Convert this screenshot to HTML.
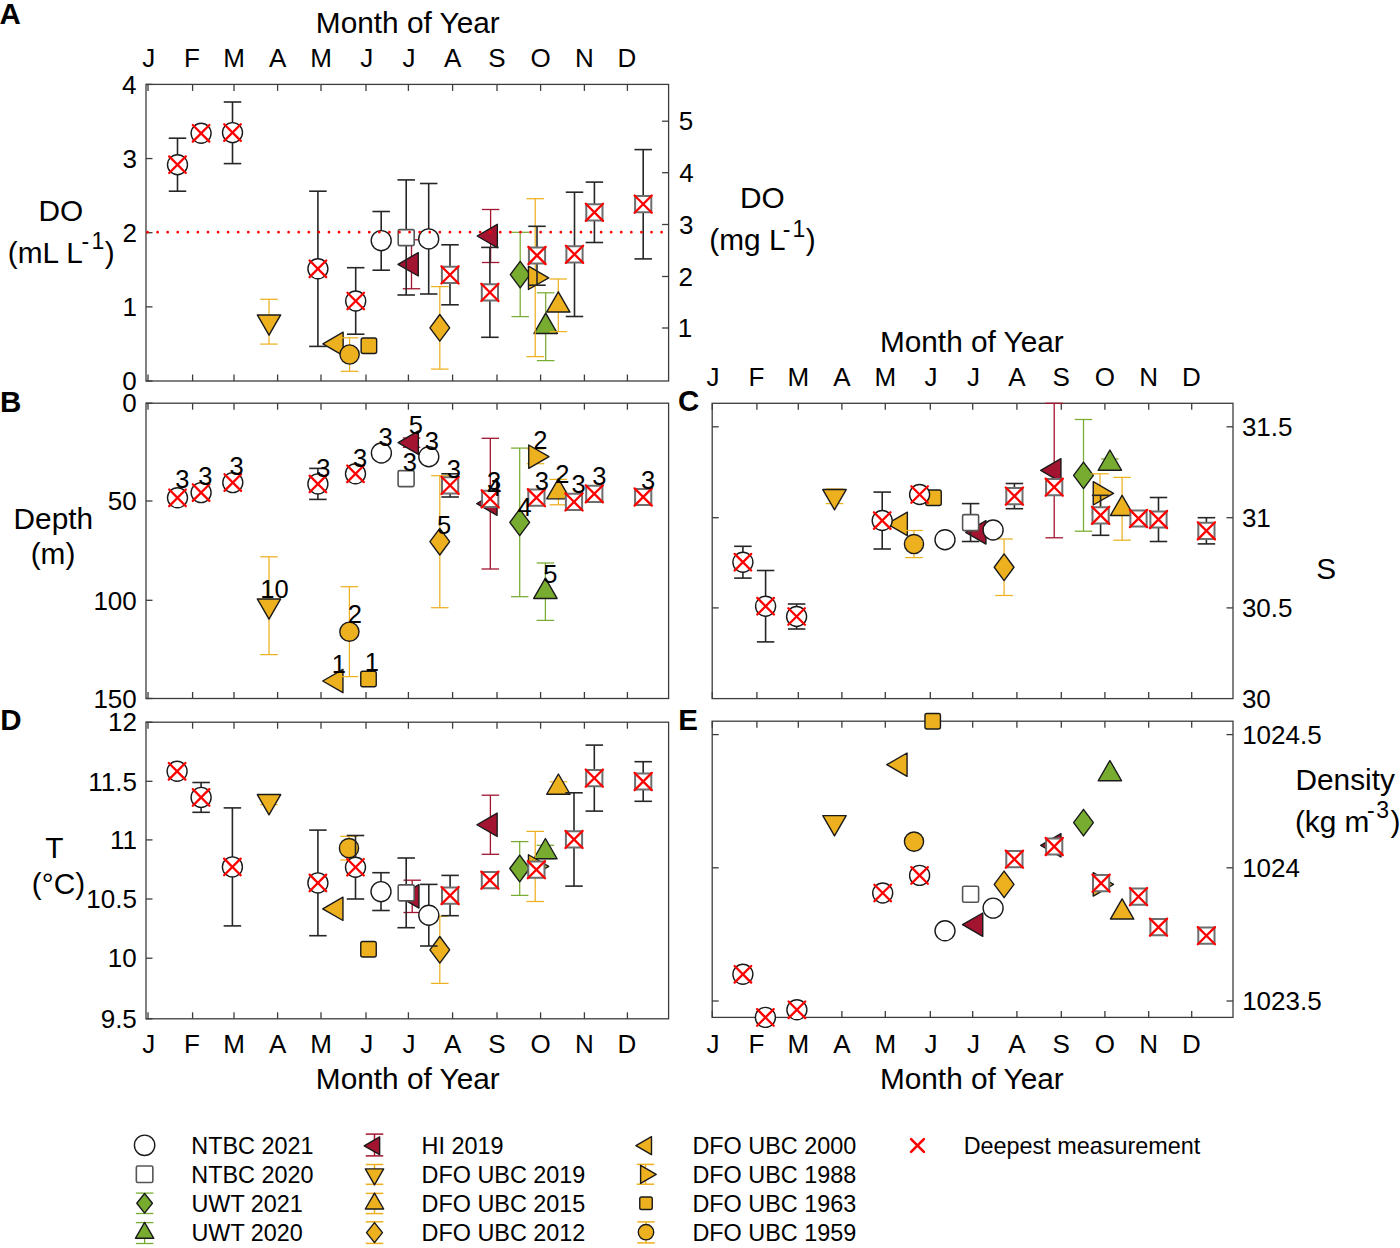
<!DOCTYPE html>
<html><head><meta charset="utf-8"><style>
html,body{margin:0;padding:0;background:#fff;}
svg{display:block;}
text{font-family:"Liberation Sans",sans-serif;}
</style></head><body>
<svg width="1400" height="1248" viewBox="0 0 1400 1248">
<rect width="1400" height="1248" fill="#fff"/>
<rect x="146" y="84.4" width="522.60" height="296.60" fill="none" stroke="#3c3c3c" stroke-width="1.3"/>
<line x1="148.00" y1="84.40" x2="148.00" y2="90.90" stroke="#3c3c3c" stroke-width="1.3" />
<line x1="148.00" y1="381.00" x2="148.00" y2="374.50" stroke="#3c3c3c" stroke-width="1.3" />
<line x1="192.60" y1="84.40" x2="192.60" y2="90.90" stroke="#3c3c3c" stroke-width="1.3" />
<line x1="192.60" y1="381.00" x2="192.60" y2="374.50" stroke="#3c3c3c" stroke-width="1.3" />
<line x1="234.00" y1="84.40" x2="234.00" y2="90.90" stroke="#3c3c3c" stroke-width="1.3" />
<line x1="234.00" y1="381.00" x2="234.00" y2="374.50" stroke="#3c3c3c" stroke-width="1.3" />
<line x1="277.60" y1="84.40" x2="277.60" y2="90.90" stroke="#3c3c3c" stroke-width="1.3" />
<line x1="277.60" y1="381.00" x2="277.60" y2="374.50" stroke="#3c3c3c" stroke-width="1.3" />
<line x1="321.00" y1="84.40" x2="321.00" y2="90.90" stroke="#3c3c3c" stroke-width="1.3" />
<line x1="321.00" y1="381.00" x2="321.00" y2="374.50" stroke="#3c3c3c" stroke-width="1.3" />
<line x1="366.00" y1="84.40" x2="366.00" y2="90.90" stroke="#3c3c3c" stroke-width="1.3" />
<line x1="366.00" y1="381.00" x2="366.00" y2="374.50" stroke="#3c3c3c" stroke-width="1.3" />
<line x1="408.40" y1="84.40" x2="408.40" y2="90.90" stroke="#3c3c3c" stroke-width="1.3" />
<line x1="408.40" y1="381.00" x2="408.40" y2="374.50" stroke="#3c3c3c" stroke-width="1.3" />
<line x1="452.60" y1="84.40" x2="452.60" y2="90.90" stroke="#3c3c3c" stroke-width="1.3" />
<line x1="452.60" y1="381.00" x2="452.60" y2="374.50" stroke="#3c3c3c" stroke-width="1.3" />
<line x1="497.00" y1="84.40" x2="497.00" y2="90.90" stroke="#3c3c3c" stroke-width="1.3" />
<line x1="497.00" y1="381.00" x2="497.00" y2="374.50" stroke="#3c3c3c" stroke-width="1.3" />
<line x1="540.60" y1="84.40" x2="540.60" y2="90.90" stroke="#3c3c3c" stroke-width="1.3" />
<line x1="540.60" y1="381.00" x2="540.60" y2="374.50" stroke="#3c3c3c" stroke-width="1.3" />
<line x1="584.40" y1="84.40" x2="584.40" y2="90.90" stroke="#3c3c3c" stroke-width="1.3" />
<line x1="584.40" y1="381.00" x2="584.40" y2="374.50" stroke="#3c3c3c" stroke-width="1.3" />
<line x1="627.40" y1="84.40" x2="627.40" y2="90.90" stroke="#3c3c3c" stroke-width="1.3" />
<line x1="627.40" y1="381.00" x2="627.40" y2="374.50" stroke="#3c3c3c" stroke-width="1.3" />
<line x1="146.00" y1="381.00" x2="152.50" y2="381.00" stroke="#3c3c3c" stroke-width="1.3" />
<line x1="146.00" y1="306.85" x2="152.50" y2="306.85" stroke="#3c3c3c" stroke-width="1.3" />
<line x1="146.00" y1="232.70" x2="152.50" y2="232.70" stroke="#3c3c3c" stroke-width="1.3" />
<line x1="146.00" y1="158.55" x2="152.50" y2="158.55" stroke="#3c3c3c" stroke-width="1.3" />
<line x1="146.00" y1="84.40" x2="152.50" y2="84.40" stroke="#3c3c3c" stroke-width="1.3" />
<line x1="668.60" y1="328.00" x2="662.10" y2="328.00" stroke="#3c3c3c" stroke-width="1.3" />
<line x1="668.60" y1="276.50" x2="662.10" y2="276.50" stroke="#3c3c3c" stroke-width="1.3" />
<line x1="668.60" y1="224.50" x2="662.10" y2="224.50" stroke="#3c3c3c" stroke-width="1.3" />
<line x1="668.60" y1="172.70" x2="662.10" y2="172.70" stroke="#3c3c3c" stroke-width="1.3" />
<line x1="668.60" y1="121.20" x2="662.10" y2="121.20" stroke="#3c3c3c" stroke-width="1.3" />
<rect x="146" y="403.2" width="522.60" height="295.30" fill="none" stroke="#3c3c3c" stroke-width="1.3"/>
<line x1="148.00" y1="403.20" x2="148.00" y2="409.70" stroke="#3c3c3c" stroke-width="1.3" />
<line x1="148.00" y1="698.50" x2="148.00" y2="692.00" stroke="#3c3c3c" stroke-width="1.3" />
<line x1="192.60" y1="403.20" x2="192.60" y2="409.70" stroke="#3c3c3c" stroke-width="1.3" />
<line x1="192.60" y1="698.50" x2="192.60" y2="692.00" stroke="#3c3c3c" stroke-width="1.3" />
<line x1="234.00" y1="403.20" x2="234.00" y2="409.70" stroke="#3c3c3c" stroke-width="1.3" />
<line x1="234.00" y1="698.50" x2="234.00" y2="692.00" stroke="#3c3c3c" stroke-width="1.3" />
<line x1="277.60" y1="403.20" x2="277.60" y2="409.70" stroke="#3c3c3c" stroke-width="1.3" />
<line x1="277.60" y1="698.50" x2="277.60" y2="692.00" stroke="#3c3c3c" stroke-width="1.3" />
<line x1="321.00" y1="403.20" x2="321.00" y2="409.70" stroke="#3c3c3c" stroke-width="1.3" />
<line x1="321.00" y1="698.50" x2="321.00" y2="692.00" stroke="#3c3c3c" stroke-width="1.3" />
<line x1="366.00" y1="403.20" x2="366.00" y2="409.70" stroke="#3c3c3c" stroke-width="1.3" />
<line x1="366.00" y1="698.50" x2="366.00" y2="692.00" stroke="#3c3c3c" stroke-width="1.3" />
<line x1="408.40" y1="403.20" x2="408.40" y2="409.70" stroke="#3c3c3c" stroke-width="1.3" />
<line x1="408.40" y1="698.50" x2="408.40" y2="692.00" stroke="#3c3c3c" stroke-width="1.3" />
<line x1="452.60" y1="403.20" x2="452.60" y2="409.70" stroke="#3c3c3c" stroke-width="1.3" />
<line x1="452.60" y1="698.50" x2="452.60" y2="692.00" stroke="#3c3c3c" stroke-width="1.3" />
<line x1="497.00" y1="403.20" x2="497.00" y2="409.70" stroke="#3c3c3c" stroke-width="1.3" />
<line x1="497.00" y1="698.50" x2="497.00" y2="692.00" stroke="#3c3c3c" stroke-width="1.3" />
<line x1="540.60" y1="403.20" x2="540.60" y2="409.70" stroke="#3c3c3c" stroke-width="1.3" />
<line x1="540.60" y1="698.50" x2="540.60" y2="692.00" stroke="#3c3c3c" stroke-width="1.3" />
<line x1="584.40" y1="403.20" x2="584.40" y2="409.70" stroke="#3c3c3c" stroke-width="1.3" />
<line x1="584.40" y1="698.50" x2="584.40" y2="692.00" stroke="#3c3c3c" stroke-width="1.3" />
<line x1="627.40" y1="403.20" x2="627.40" y2="409.70" stroke="#3c3c3c" stroke-width="1.3" />
<line x1="627.40" y1="698.50" x2="627.40" y2="692.00" stroke="#3c3c3c" stroke-width="1.3" />
<line x1="146.00" y1="403.20" x2="152.50" y2="403.20" stroke="#3c3c3c" stroke-width="1.3" />
<line x1="146.00" y1="501.00" x2="152.50" y2="501.00" stroke="#3c3c3c" stroke-width="1.3" />
<line x1="146.00" y1="600.30" x2="152.50" y2="600.30" stroke="#3c3c3c" stroke-width="1.3" />
<line x1="146.00" y1="698.50" x2="152.50" y2="698.50" stroke="#3c3c3c" stroke-width="1.3" />
<rect x="146" y="722.2" width="522.60" height="296.60" fill="none" stroke="#3c3c3c" stroke-width="1.3"/>
<line x1="148.00" y1="722.20" x2="148.00" y2="728.70" stroke="#3c3c3c" stroke-width="1.3" />
<line x1="148.00" y1="1018.80" x2="148.00" y2="1012.30" stroke="#3c3c3c" stroke-width="1.3" />
<line x1="192.60" y1="722.20" x2="192.60" y2="728.70" stroke="#3c3c3c" stroke-width="1.3" />
<line x1="192.60" y1="1018.80" x2="192.60" y2="1012.30" stroke="#3c3c3c" stroke-width="1.3" />
<line x1="234.00" y1="722.20" x2="234.00" y2="728.70" stroke="#3c3c3c" stroke-width="1.3" />
<line x1="234.00" y1="1018.80" x2="234.00" y2="1012.30" stroke="#3c3c3c" stroke-width="1.3" />
<line x1="277.60" y1="722.20" x2="277.60" y2="728.70" stroke="#3c3c3c" stroke-width="1.3" />
<line x1="277.60" y1="1018.80" x2="277.60" y2="1012.30" stroke="#3c3c3c" stroke-width="1.3" />
<line x1="321.00" y1="722.20" x2="321.00" y2="728.70" stroke="#3c3c3c" stroke-width="1.3" />
<line x1="321.00" y1="1018.80" x2="321.00" y2="1012.30" stroke="#3c3c3c" stroke-width="1.3" />
<line x1="366.00" y1="722.20" x2="366.00" y2="728.70" stroke="#3c3c3c" stroke-width="1.3" />
<line x1="366.00" y1="1018.80" x2="366.00" y2="1012.30" stroke="#3c3c3c" stroke-width="1.3" />
<line x1="408.40" y1="722.20" x2="408.40" y2="728.70" stroke="#3c3c3c" stroke-width="1.3" />
<line x1="408.40" y1="1018.80" x2="408.40" y2="1012.30" stroke="#3c3c3c" stroke-width="1.3" />
<line x1="452.60" y1="722.20" x2="452.60" y2="728.70" stroke="#3c3c3c" stroke-width="1.3" />
<line x1="452.60" y1="1018.80" x2="452.60" y2="1012.30" stroke="#3c3c3c" stroke-width="1.3" />
<line x1="497.00" y1="722.20" x2="497.00" y2="728.70" stroke="#3c3c3c" stroke-width="1.3" />
<line x1="497.00" y1="1018.80" x2="497.00" y2="1012.30" stroke="#3c3c3c" stroke-width="1.3" />
<line x1="540.60" y1="722.20" x2="540.60" y2="728.70" stroke="#3c3c3c" stroke-width="1.3" />
<line x1="540.60" y1="1018.80" x2="540.60" y2="1012.30" stroke="#3c3c3c" stroke-width="1.3" />
<line x1="584.40" y1="722.20" x2="584.40" y2="728.70" stroke="#3c3c3c" stroke-width="1.3" />
<line x1="584.40" y1="1018.80" x2="584.40" y2="1012.30" stroke="#3c3c3c" stroke-width="1.3" />
<line x1="627.40" y1="722.20" x2="627.40" y2="728.70" stroke="#3c3c3c" stroke-width="1.3" />
<line x1="627.40" y1="1018.80" x2="627.40" y2="1012.30" stroke="#3c3c3c" stroke-width="1.3" />
<line x1="146.00" y1="1018.80" x2="152.50" y2="1018.80" stroke="#3c3c3c" stroke-width="1.3" />
<line x1="146.00" y1="958.20" x2="152.50" y2="958.20" stroke="#3c3c3c" stroke-width="1.3" />
<line x1="146.00" y1="899.00" x2="152.50" y2="899.00" stroke="#3c3c3c" stroke-width="1.3" />
<line x1="146.00" y1="839.90" x2="152.50" y2="839.90" stroke="#3c3c3c" stroke-width="1.3" />
<line x1="146.00" y1="781.30" x2="152.50" y2="781.30" stroke="#3c3c3c" stroke-width="1.3" />
<line x1="146.00" y1="722.20" x2="152.50" y2="722.20" stroke="#3c3c3c" stroke-width="1.3" />
<rect x="712.2" y="403.3" width="520.80" height="295.30" fill="none" stroke="#3c3c3c" stroke-width="1.3"/>
<line x1="712.30" y1="403.30" x2="712.30" y2="409.80" stroke="#3c3c3c" stroke-width="1.3" />
<line x1="712.30" y1="698.60" x2="712.30" y2="692.10" stroke="#3c3c3c" stroke-width="1.3" />
<line x1="756.90" y1="403.30" x2="756.90" y2="409.80" stroke="#3c3c3c" stroke-width="1.3" />
<line x1="756.90" y1="698.60" x2="756.90" y2="692.10" stroke="#3c3c3c" stroke-width="1.3" />
<line x1="798.30" y1="403.30" x2="798.30" y2="409.80" stroke="#3c3c3c" stroke-width="1.3" />
<line x1="798.30" y1="698.60" x2="798.30" y2="692.10" stroke="#3c3c3c" stroke-width="1.3" />
<line x1="841.90" y1="403.30" x2="841.90" y2="409.80" stroke="#3c3c3c" stroke-width="1.3" />
<line x1="841.90" y1="698.60" x2="841.90" y2="692.10" stroke="#3c3c3c" stroke-width="1.3" />
<line x1="885.30" y1="403.30" x2="885.30" y2="409.80" stroke="#3c3c3c" stroke-width="1.3" />
<line x1="885.30" y1="698.60" x2="885.30" y2="692.10" stroke="#3c3c3c" stroke-width="1.3" />
<line x1="930.30" y1="403.30" x2="930.30" y2="409.80" stroke="#3c3c3c" stroke-width="1.3" />
<line x1="930.30" y1="698.60" x2="930.30" y2="692.10" stroke="#3c3c3c" stroke-width="1.3" />
<line x1="972.70" y1="403.30" x2="972.70" y2="409.80" stroke="#3c3c3c" stroke-width="1.3" />
<line x1="972.70" y1="698.60" x2="972.70" y2="692.10" stroke="#3c3c3c" stroke-width="1.3" />
<line x1="1016.90" y1="403.30" x2="1016.90" y2="409.80" stroke="#3c3c3c" stroke-width="1.3" />
<line x1="1016.90" y1="698.60" x2="1016.90" y2="692.10" stroke="#3c3c3c" stroke-width="1.3" />
<line x1="1061.30" y1="403.30" x2="1061.30" y2="409.80" stroke="#3c3c3c" stroke-width="1.3" />
<line x1="1061.30" y1="698.60" x2="1061.30" y2="692.10" stroke="#3c3c3c" stroke-width="1.3" />
<line x1="1104.90" y1="403.30" x2="1104.90" y2="409.80" stroke="#3c3c3c" stroke-width="1.3" />
<line x1="1104.90" y1="698.60" x2="1104.90" y2="692.10" stroke="#3c3c3c" stroke-width="1.3" />
<line x1="1148.70" y1="403.30" x2="1148.70" y2="409.80" stroke="#3c3c3c" stroke-width="1.3" />
<line x1="1148.70" y1="698.60" x2="1148.70" y2="692.10" stroke="#3c3c3c" stroke-width="1.3" />
<line x1="1191.70" y1="403.30" x2="1191.70" y2="409.80" stroke="#3c3c3c" stroke-width="1.3" />
<line x1="1191.70" y1="698.60" x2="1191.70" y2="692.10" stroke="#3c3c3c" stroke-width="1.3" />
<line x1="712.20" y1="607.90" x2="718.70" y2="607.90" stroke="#3c3c3c" stroke-width="1.3" />
<line x1="1233.00" y1="607.90" x2="1226.50" y2="607.90" stroke="#3c3c3c" stroke-width="1.3" />
<line x1="712.20" y1="517.70" x2="718.70" y2="517.70" stroke="#3c3c3c" stroke-width="1.3" />
<line x1="1233.00" y1="517.70" x2="1226.50" y2="517.70" stroke="#3c3c3c" stroke-width="1.3" />
<line x1="712.20" y1="426.80" x2="718.70" y2="426.80" stroke="#3c3c3c" stroke-width="1.3" />
<line x1="1233.00" y1="426.80" x2="1226.50" y2="426.80" stroke="#3c3c3c" stroke-width="1.3" />
<rect x="712.2" y="721.2" width="520.80" height="296.20" fill="none" stroke="#3c3c3c" stroke-width="1.3"/>
<line x1="712.30" y1="721.20" x2="712.30" y2="727.70" stroke="#3c3c3c" stroke-width="1.3" />
<line x1="712.30" y1="1017.40" x2="712.30" y2="1010.90" stroke="#3c3c3c" stroke-width="1.3" />
<line x1="756.90" y1="721.20" x2="756.90" y2="727.70" stroke="#3c3c3c" stroke-width="1.3" />
<line x1="756.90" y1="1017.40" x2="756.90" y2="1010.90" stroke="#3c3c3c" stroke-width="1.3" />
<line x1="798.30" y1="721.20" x2="798.30" y2="727.70" stroke="#3c3c3c" stroke-width="1.3" />
<line x1="798.30" y1="1017.40" x2="798.30" y2="1010.90" stroke="#3c3c3c" stroke-width="1.3" />
<line x1="841.90" y1="721.20" x2="841.90" y2="727.70" stroke="#3c3c3c" stroke-width="1.3" />
<line x1="841.90" y1="1017.40" x2="841.90" y2="1010.90" stroke="#3c3c3c" stroke-width="1.3" />
<line x1="885.30" y1="721.20" x2="885.30" y2="727.70" stroke="#3c3c3c" stroke-width="1.3" />
<line x1="885.30" y1="1017.40" x2="885.30" y2="1010.90" stroke="#3c3c3c" stroke-width="1.3" />
<line x1="930.30" y1="721.20" x2="930.30" y2="727.70" stroke="#3c3c3c" stroke-width="1.3" />
<line x1="930.30" y1="1017.40" x2="930.30" y2="1010.90" stroke="#3c3c3c" stroke-width="1.3" />
<line x1="972.70" y1="721.20" x2="972.70" y2="727.70" stroke="#3c3c3c" stroke-width="1.3" />
<line x1="972.70" y1="1017.40" x2="972.70" y2="1010.90" stroke="#3c3c3c" stroke-width="1.3" />
<line x1="1016.90" y1="721.20" x2="1016.90" y2="727.70" stroke="#3c3c3c" stroke-width="1.3" />
<line x1="1016.90" y1="1017.40" x2="1016.90" y2="1010.90" stroke="#3c3c3c" stroke-width="1.3" />
<line x1="1061.30" y1="721.20" x2="1061.30" y2="727.70" stroke="#3c3c3c" stroke-width="1.3" />
<line x1="1061.30" y1="1017.40" x2="1061.30" y2="1010.90" stroke="#3c3c3c" stroke-width="1.3" />
<line x1="1104.90" y1="721.20" x2="1104.90" y2="727.70" stroke="#3c3c3c" stroke-width="1.3" />
<line x1="1104.90" y1="1017.40" x2="1104.90" y2="1010.90" stroke="#3c3c3c" stroke-width="1.3" />
<line x1="1148.70" y1="721.20" x2="1148.70" y2="727.70" stroke="#3c3c3c" stroke-width="1.3" />
<line x1="1148.70" y1="1017.40" x2="1148.70" y2="1010.90" stroke="#3c3c3c" stroke-width="1.3" />
<line x1="1191.70" y1="721.20" x2="1191.70" y2="727.70" stroke="#3c3c3c" stroke-width="1.3" />
<line x1="1191.70" y1="1017.40" x2="1191.70" y2="1010.90" stroke="#3c3c3c" stroke-width="1.3" />
<line x1="712.20" y1="1001.00" x2="718.70" y2="1001.00" stroke="#3c3c3c" stroke-width="1.3" />
<line x1="1233.00" y1="1001.00" x2="1226.50" y2="1001.00" stroke="#3c3c3c" stroke-width="1.3" />
<line x1="712.20" y1="867.80" x2="718.70" y2="867.80" stroke="#3c3c3c" stroke-width="1.3" />
<line x1="1233.00" y1="867.80" x2="1226.50" y2="867.80" stroke="#3c3c3c" stroke-width="1.3" />
<line x1="712.20" y1="734.60" x2="718.70" y2="734.60" stroke="#3c3c3c" stroke-width="1.3" />
<line x1="1233.00" y1="734.60" x2="1226.50" y2="734.60" stroke="#3c3c3c" stroke-width="1.3" />
<text x="122.28" y="390.20" font-size="26" font-weight="normal" fill="#000" >0</text>
<text x="122.54" y="316.05" font-size="26" font-weight="normal" fill="#000" >1</text>
<text x="122.54" y="241.90" font-size="26" font-weight="normal" fill="#000" >2</text>
<text x="122.41" y="167.75" font-size="26" font-weight="normal" fill="#000" >3</text>
<text x="122.02" y="93.60" font-size="26" font-weight="normal" fill="#000" >4</text>
<text x="677.85" y="337.20" font-size="26" font-weight="normal" fill="#000" >1</text>
<text x="678.50" y="285.70" font-size="26" font-weight="normal" fill="#000" >2</text>
<text x="678.89" y="233.70" font-size="26" font-weight="normal" fill="#000" >3</text>
<text x="679.28" y="181.90" font-size="26" font-weight="normal" fill="#000" >4</text>
<text x="678.76" y="130.40" font-size="26" font-weight="normal" fill="#000" >5</text>
<text x="122.28" y="412.40" font-size="26" font-weight="normal" fill="#000" >0</text>
<text x="107.85" y="510.20" font-size="26" font-weight="normal" fill="#000" >50</text>
<text x="93.42" y="609.50" font-size="26" font-weight="normal" fill="#000" >100</text>
<text x="93.42" y="707.70" font-size="26" font-weight="normal" fill="#000" >150</text>
<text x="100.70" y="1028.00" font-size="26" font-weight="normal" fill="#000" >9.5</text>
<text x="107.85" y="967.40" font-size="26" font-weight="normal" fill="#000" >10</text>
<text x="86.27" y="908.20" font-size="26" font-weight="normal" fill="#000" >10.5</text>
<text x="110.06" y="849.10" font-size="26" font-weight="normal" fill="#000" >11</text>
<text x="88.22" y="790.50" font-size="26" font-weight="normal" fill="#000" >11.5</text>
<text x="108.11" y="731.40" font-size="26" font-weight="normal" fill="#000" >12</text>
<text x="1241.89" y="707.80" font-size="26" font-weight="normal" fill="#000" >30</text>
<text x="1241.89" y="617.10" font-size="26" font-weight="normal" fill="#000" >30.5</text>
<text x="1241.89" y="526.90" font-size="26" font-weight="normal" fill="#000" >31</text>
<text x="1241.89" y="436.00" font-size="26" font-weight="normal" fill="#000" >31.5</text>
<text x="1242.15" y="1010.20" font-size="26" font-weight="normal" fill="#000" >1023.5</text>
<text x="1242.15" y="877.00" font-size="26" font-weight="normal" fill="#000" >1024</text>
<text x="1242.15" y="743.80" font-size="26" font-weight="normal" fill="#000" >1024.5</text>
<text x="142.22" y="67.40" font-size="26" font-weight="normal" fill="#000" >J</text>
<text x="706.51" y="386.30" font-size="26" font-weight="normal" fill="#000" >J</text>
<text x="142.22" y="1053.10" font-size="26" font-weight="normal" fill="#000" >J</text>
<text x="706.51" y="1053.10" font-size="26" font-weight="normal" fill="#000" >J</text>
<text x="184.09" y="67.40" font-size="26" font-weight="normal" fill="#000" >F</text>
<text x="748.38" y="386.30" font-size="26" font-weight="normal" fill="#000" >F</text>
<text x="184.09" y="1053.10" font-size="26" font-weight="normal" fill="#000" >F</text>
<text x="748.38" y="1053.10" font-size="26" font-weight="normal" fill="#000" >F</text>
<text x="223.15" y="67.40" font-size="26" font-weight="normal" fill="#000" >M</text>
<text x="787.44" y="386.30" font-size="26" font-weight="normal" fill="#000" >M</text>
<text x="223.15" y="1053.10" font-size="26" font-weight="normal" fill="#000" >M</text>
<text x="787.44" y="1053.10" font-size="26" font-weight="normal" fill="#000" >M</text>
<text x="268.96" y="67.40" font-size="26" font-weight="normal" fill="#000" >A</text>
<text x="833.25" y="386.30" font-size="26" font-weight="normal" fill="#000" >A</text>
<text x="268.96" y="1053.10" font-size="26" font-weight="normal" fill="#000" >A</text>
<text x="833.25" y="1053.10" font-size="26" font-weight="normal" fill="#000" >A</text>
<text x="310.14" y="67.40" font-size="26" font-weight="normal" fill="#000" >M</text>
<text x="874.44" y="386.30" font-size="26" font-weight="normal" fill="#000" >M</text>
<text x="310.14" y="1053.10" font-size="26" font-weight="normal" fill="#000" >M</text>
<text x="874.44" y="1053.10" font-size="26" font-weight="normal" fill="#000" >M</text>
<text x="360.21" y="67.40" font-size="26" font-weight="normal" fill="#000" >J</text>
<text x="924.51" y="386.30" font-size="26" font-weight="normal" fill="#000" >J</text>
<text x="360.21" y="1053.10" font-size="26" font-weight="normal" fill="#000" >J</text>
<text x="924.51" y="1053.10" font-size="26" font-weight="normal" fill="#000" >J</text>
<text x="402.61" y="67.40" font-size="26" font-weight="normal" fill="#000" >J</text>
<text x="966.91" y="386.30" font-size="26" font-weight="normal" fill="#000" >J</text>
<text x="402.61" y="1053.10" font-size="26" font-weight="normal" fill="#000" >J</text>
<text x="966.91" y="1053.10" font-size="26" font-weight="normal" fill="#000" >J</text>
<text x="443.96" y="67.40" font-size="26" font-weight="normal" fill="#000" >A</text>
<text x="1008.25" y="386.30" font-size="26" font-weight="normal" fill="#000" >A</text>
<text x="443.96" y="1053.10" font-size="26" font-weight="normal" fill="#000" >A</text>
<text x="1008.25" y="1053.10" font-size="26" font-weight="normal" fill="#000" >A</text>
<text x="488.29" y="67.40" font-size="26" font-weight="normal" fill="#000" >S</text>
<text x="1052.59" y="386.30" font-size="26" font-weight="normal" fill="#000" >S</text>
<text x="488.29" y="1053.10" font-size="26" font-weight="normal" fill="#000" >S</text>
<text x="1052.59" y="1053.10" font-size="26" font-weight="normal" fill="#000" >S</text>
<text x="530.52" y="67.40" font-size="26" font-weight="normal" fill="#000" >O</text>
<text x="1094.83" y="386.30" font-size="26" font-weight="normal" fill="#000" >O</text>
<text x="530.52" y="1053.10" font-size="26" font-weight="normal" fill="#000" >O</text>
<text x="1094.83" y="1053.10" font-size="26" font-weight="normal" fill="#000" >O</text>
<text x="574.98" y="67.40" font-size="26" font-weight="normal" fill="#000" >N</text>
<text x="1139.27" y="386.30" font-size="26" font-weight="normal" fill="#000" >N</text>
<text x="574.98" y="1053.10" font-size="26" font-weight="normal" fill="#000" >N</text>
<text x="1139.27" y="1053.10" font-size="26" font-weight="normal" fill="#000" >N</text>
<text x="617.58" y="67.40" font-size="26" font-weight="normal" fill="#000" >D</text>
<text x="1181.88" y="386.30" font-size="26" font-weight="normal" fill="#000" >D</text>
<text x="617.58" y="1053.10" font-size="26" font-weight="normal" fill="#000" >D</text>
<text x="1181.88" y="1053.10" font-size="26" font-weight="normal" fill="#000" >D</text>
<text x="315.87" y="33.30" font-size="29.8" font-weight="normal" fill="#000" >Month of Year</text>
<text x="879.92" y="352.10" font-size="29.8" font-weight="normal" fill="#000" >Month of Year</text>
<text x="315.87" y="1088.80" font-size="29.8" font-weight="normal" fill="#000" >Month of Year</text>
<text x="879.92" y="1088.80" font-size="29.8" font-weight="normal" fill="#000" >Month of Year</text>
<text x="-0.44" y="23.80" font-size="29.5" font-weight="bold" fill="#000" >A</text>
<text x="-0.02" y="411.80" font-size="29.5" font-weight="bold" fill="#000" >B</text>
<text x="677.92" y="411.30" font-size="29.5" font-weight="bold" fill="#000" >C</text>
<text x="0.18" y="729.60" font-size="29.5" font-weight="bold" fill="#000" >D</text>
<text x="678.28" y="729.60" font-size="29.5" font-weight="bold" fill="#000" >E</text>
<text x="38.55" y="220.70" font-size="29.8" font-weight="normal" fill="#000" >DO</text>
<text x="7.81" y="263.00" font-size="29.8" font-weight="normal" fill="#000" >(mL L</text>
<text x="81.58" y="249.40" font-size="23" font-weight="normal" fill="#000" >-</text>
<text x="91.48" y="249.40" font-size="23" font-weight="normal" fill="#000" >1</text>
<text x="104.85" y="263.00" font-size="29.8" font-weight="normal" fill="#000" >)</text>
<text x="13.59" y="529.30" font-size="29.8" font-weight="normal" fill="#000" >Depth</text>
<text x="30.70" y="564.25" font-size="29.8" font-weight="normal" fill="#000" >(m)</text>
<text x="45.31" y="858.10" font-size="29.8" font-weight="normal" fill="#000" >T</text>
<text x="31.83" y="893.50" font-size="29.8" font-weight="normal" fill="#000" >(°C)</text>
<text x="740.00" y="207.60" font-size="29.8" font-weight="normal" fill="#000" >DO</text>
<text x="709.31" y="250.30" font-size="29.8" font-weight="normal" fill="#000" >(mg L</text>
<text x="782.68" y="236.60" font-size="23" font-weight="normal" fill="#000" >-</text>
<text x="792.57" y="236.60" font-size="23" font-weight="normal" fill="#000" >1</text>
<text x="805.75" y="250.30" font-size="29.8" font-weight="normal" fill="#000" >)</text>
<text x="1316.17" y="579.00" font-size="29.8" font-weight="normal" fill="#000" >S</text>
<text x="1295.47" y="789.50" font-size="29.8" font-weight="normal" fill="#000" >Density</text>
<text x="1294.91" y="831.50" font-size="29.8" font-weight="normal" fill="#000" >(kg m</text>
<text x="1366.88" y="818.10" font-size="23" font-weight="normal" fill="#000" >-</text>
<text x="1376.36" y="818.10" font-size="23" font-weight="normal" fill="#000" >3</text>
<text x="1390.45" y="831.50" font-size="29.8" font-weight="normal" fill="#000" >)</text>
<text x="191.33" y="1153.80" font-size="23.4" font-weight="normal" fill="#000" >NTBC 2021</text>
<text x="421.53" y="1153.80" font-size="23.4" font-weight="normal" fill="#000" >HI 2019</text>
<text x="692.43" y="1153.80" font-size="23.4" font-weight="normal" fill="#000" >DFO UBC 2000</text>
<text x="191.33" y="1182.60" font-size="23.4" font-weight="normal" fill="#000" >NTBC 2020</text>
<text x="421.53" y="1182.60" font-size="23.4" font-weight="normal" fill="#000" >DFO UBC 2019</text>
<text x="692.43" y="1182.60" font-size="23.4" font-weight="normal" fill="#000" >DFO UBC 1988</text>
<text x="191.44" y="1211.90" font-size="23.4" font-weight="normal" fill="#000" >UWT 2021</text>
<text x="421.53" y="1211.90" font-size="23.4" font-weight="normal" fill="#000" >DFO UBC 2015</text>
<text x="692.43" y="1211.90" font-size="23.4" font-weight="normal" fill="#000" >DFO UBC 1963</text>
<text x="191.44" y="1241.00" font-size="23.4" font-weight="normal" fill="#000" >UWT 2020</text>
<text x="421.53" y="1241.00" font-size="23.4" font-weight="normal" fill="#000" >DFO UBC 2012</text>
<text x="692.43" y="1241.00" font-size="23.4" font-weight="normal" fill="#000" >DFO UBC 1959</text>
<text x="963.63" y="1153.80" font-size="23.4" font-weight="normal" fill="#000" >Deepest measurement</text>
<circle cx="144.60" cy="1145.30" r="10.2" fill="#fff" stroke="#1a1a1a" stroke-width="1.4"/>
<rect x="136.35" y="1166.05" width="16.5" height="16.5" rx="1.5" fill="#fff" stroke="#555" stroke-width="1.6"/>
<line x1="144.60" y1="1193.10" x2="144.60" y2="1213.50" stroke="#77AC30" stroke-width="1.3" />
<line x1="135.85" y1="1193.10" x2="153.35" y2="1193.10" stroke="#77AC30" stroke-width="1.3" />
<line x1="135.85" y1="1213.50" x2="153.35" y2="1213.50" stroke="#77AC30" stroke-width="1.3" />
<polygon points="144.60,1193.50 152.40,1203.30 144.60,1213.10 136.80,1203.30" fill="#77AC30" stroke="#1a1a1a" stroke-width="1.4" stroke-linejoin="round"/>
<line x1="144.60" y1="1222.60" x2="144.60" y2="1243.50" stroke="#77AC30" stroke-width="1.3" />
<line x1="135.85" y1="1222.60" x2="153.35" y2="1222.60" stroke="#77AC30" stroke-width="1.3" />
<line x1="135.85" y1="1243.50" x2="153.35" y2="1243.50" stroke="#77AC30" stroke-width="1.3" />
<polygon points="144.60,1222.40 153.78,1238.30 135.42,1238.30" fill="#77AC30" stroke="#1a1a1a" stroke-width="1.4" stroke-linejoin="round"/>
<line x1="374.50" y1="1134.10" x2="374.50" y2="1155.90" stroke="#A2142F" stroke-width="1.5" />
<line x1="365.75" y1="1134.10" x2="383.25" y2="1134.10" stroke="#A2142F" stroke-width="1.5" />
<line x1="365.75" y1="1155.90" x2="383.25" y2="1155.90" stroke="#A2142F" stroke-width="1.5" />
<polygon points="364.20,1145.80 379.65,1136.88 379.65,1154.72" fill="#A2142F" stroke="#1a1a1a" stroke-width="1.4" stroke-linejoin="round"/>
<line x1="374.50" y1="1164.50" x2="374.50" y2="1184.30" stroke="#EDB120" stroke-width="1.5" />
<line x1="365.75" y1="1164.50" x2="383.25" y2="1164.50" stroke="#EDB120" stroke-width="1.5" />
<line x1="365.75" y1="1184.30" x2="383.25" y2="1184.30" stroke="#EDB120" stroke-width="1.5" />
<polygon points="374.50,1184.80 365.32,1168.90 383.68,1168.90" fill="#EDB120" stroke="#1a1a1a" stroke-width="1.4" stroke-linejoin="round"/>
<line x1="374.50" y1="1193.40" x2="374.50" y2="1213.60" stroke="#EDB120" stroke-width="1.5" />
<line x1="365.75" y1="1193.40" x2="383.25" y2="1193.40" stroke="#EDB120" stroke-width="1.5" />
<line x1="365.75" y1="1213.60" x2="383.25" y2="1213.60" stroke="#EDB120" stroke-width="1.5" />
<polygon points="374.50,1193.10 383.68,1209.00 365.32,1209.00" fill="#EDB120" stroke="#1a1a1a" stroke-width="1.4" stroke-linejoin="round"/>
<line x1="374.50" y1="1221.80" x2="374.50" y2="1243.40" stroke="#EDB120" stroke-width="1.5" />
<line x1="365.75" y1="1221.80" x2="383.25" y2="1221.80" stroke="#EDB120" stroke-width="1.5" />
<line x1="365.75" y1="1243.40" x2="383.25" y2="1243.40" stroke="#EDB120" stroke-width="1.5" />
<polygon points="374.50,1222.60 382.50,1232.60 374.50,1242.60 366.50,1232.60" fill="#EDB120" stroke="#1a1a1a" stroke-width="1.4" stroke-linejoin="round"/>
<polygon points="635.90,1145.70 651.50,1136.69 651.50,1154.71" fill="#EDB120" stroke="#1a1a1a" stroke-width="1.4" stroke-linejoin="round"/>
<line x1="645.50" y1="1164.40" x2="645.50" y2="1184.20" stroke="#EDB120" stroke-width="1.5" />
<line x1="636.75" y1="1164.40" x2="654.25" y2="1164.40" stroke="#EDB120" stroke-width="1.5" />
<line x1="636.75" y1="1184.20" x2="654.25" y2="1184.20" stroke="#EDB120" stroke-width="1.5" />
<polygon points="656.20,1174.30 640.60,1183.31 640.60,1165.29" fill="#EDB120" stroke="#1a1a1a" stroke-width="1.4" stroke-linejoin="round"/>
<rect x="639.75" y="1197.05" width="12.5" height="12.5" rx="1.8" fill="#EDB120" stroke="#1a1a1a" stroke-width="1.4"/>
<line x1="646.00" y1="1221.90" x2="646.00" y2="1242.90" stroke="#EDB120" stroke-width="1.5" />
<line x1="637.25" y1="1221.90" x2="654.75" y2="1221.90" stroke="#EDB120" stroke-width="1.5" />
<line x1="637.25" y1="1242.90" x2="654.75" y2="1242.90" stroke="#EDB120" stroke-width="1.5" />
<circle cx="646.00" cy="1232.20" r="7.7" fill="#EDB120" stroke="#1a1a1a" stroke-width="1.4"/>
<line x1="911.10" y1="1139.10" x2="923.90" y2="1151.90" stroke="#FF0000" stroke-width="2.6" stroke-linecap="round"/>
<line x1="911.10" y1="1151.90" x2="923.90" y2="1139.10" stroke="#FF0000" stroke-width="2.6" stroke-linecap="round"/>
<line x1="520.20" y1="232.30" x2="520.20" y2="316.60" stroke="#77AC30" stroke-width="1.25" />
<line x1="511.45" y1="232.30" x2="528.95" y2="232.30" stroke="#77AC30" stroke-width="1.25" />
<line x1="511.45" y1="316.60" x2="528.95" y2="316.60" stroke="#77AC30" stroke-width="1.25" />
<polygon points="520.20,261.30 530.10,274.60 520.20,287.90 510.30,274.60" fill="#77AC30" stroke="#1a1a1a" stroke-width="1.4" stroke-linejoin="round"/>
<line x1="545.70" y1="292.80" x2="545.70" y2="360.60" stroke="#77AC30" stroke-width="1.25" />
<line x1="536.95" y1="292.80" x2="554.45" y2="292.80" stroke="#77AC30" stroke-width="1.25" />
<line x1="536.95" y1="360.60" x2="554.45" y2="360.60" stroke="#77AC30" stroke-width="1.25" />
<polygon points="545.70,313.20 557.39,333.45 534.01,333.45" fill="#77AC30" stroke="#1a1a1a" stroke-width="1.4" stroke-linejoin="round"/>
<line x1="411.50" y1="239.80" x2="411.50" y2="288.75" stroke="#A2142F" stroke-width="1.3" />
<line x1="402.75" y1="239.80" x2="420.25" y2="239.80" stroke="#A2142F" stroke-width="1.3" />
<line x1="402.75" y1="288.75" x2="420.25" y2="288.75" stroke="#A2142F" stroke-width="1.3" />
<polygon points="398.00,264.30 418.25,252.61 418.25,275.99" fill="#A2142F" stroke="#1a1a1a" stroke-width="1.4" stroke-linejoin="round"/>
<line x1="490.60" y1="209.50" x2="490.60" y2="262.50" stroke="#A2142F" stroke-width="1.3" />
<line x1="481.85" y1="209.50" x2="499.35" y2="209.50" stroke="#A2142F" stroke-width="1.3" />
<line x1="481.85" y1="262.50" x2="499.35" y2="262.50" stroke="#A2142F" stroke-width="1.3" />
<polygon points="477.10,236.00 497.35,224.31 497.35,247.69" fill="#A2142F" stroke="#1a1a1a" stroke-width="1.4" stroke-linejoin="round"/>
<line x1="269.00" y1="299.30" x2="269.00" y2="344.10" stroke="#EDB120" stroke-width="1.25" />
<line x1="260.25" y1="299.30" x2="277.75" y2="299.30" stroke="#EDB120" stroke-width="1.25" />
<line x1="260.25" y1="344.10" x2="277.75" y2="344.10" stroke="#EDB120" stroke-width="1.25" />
<polygon points="269.00,335.20 257.31,314.95 280.69,314.95" fill="#EDB120" stroke="#1a1a1a" stroke-width="1.4" stroke-linejoin="round"/>
<line x1="558.30" y1="279.00" x2="558.30" y2="331.60" stroke="#EDB120" stroke-width="1.25" />
<line x1="549.55" y1="279.00" x2="567.05" y2="279.00" stroke="#EDB120" stroke-width="1.25" />
<line x1="549.55" y1="331.60" x2="567.05" y2="331.60" stroke="#EDB120" stroke-width="1.25" />
<polygon points="558.30,291.80 569.99,312.05 546.61,312.05" fill="#EDB120" stroke="#1a1a1a" stroke-width="1.4" stroke-linejoin="round"/>
<line x1="439.80" y1="286.60" x2="439.80" y2="369.10" stroke="#EDB120" stroke-width="1.25" />
<line x1="431.05" y1="286.60" x2="448.55" y2="286.60" stroke="#EDB120" stroke-width="1.25" />
<line x1="431.05" y1="369.10" x2="448.55" y2="369.10" stroke="#EDB120" stroke-width="1.25" />
<polygon points="439.80,314.50 449.70,327.80 439.80,341.10 429.90,327.80" fill="#EDB120" stroke="#1a1a1a" stroke-width="1.4" stroke-linejoin="round"/>
<polygon points="322.90,343.85 343.15,332.16 343.15,355.54" fill="#EDB120" stroke="#1a1a1a" stroke-width="1.4" stroke-linejoin="round"/>
<line x1="535.20" y1="198.70" x2="535.20" y2="356.60" stroke="#EDB120" stroke-width="1.25" />
<line x1="526.45" y1="198.70" x2="543.95" y2="198.70" stroke="#EDB120" stroke-width="1.25" />
<line x1="526.45" y1="356.60" x2="543.95" y2="356.60" stroke="#EDB120" stroke-width="1.25" />
<polygon points="548.70,277.80 528.45,289.49 528.45,266.11" fill="#EDB120" stroke="#1a1a1a" stroke-width="1.4" stroke-linejoin="round"/>
<rect x="361.15" y="338.05" width="15.5" height="15.5" rx="2" fill="#EDB120" stroke="#1a1a1a" stroke-width="1.4"/>
<line x1="349.60" y1="337.80" x2="349.60" y2="371.30" stroke="#EDB120" stroke-width="1.25" />
<line x1="340.85" y1="337.80" x2="358.35" y2="337.80" stroke="#EDB120" stroke-width="1.25" />
<line x1="340.85" y1="371.30" x2="358.35" y2="371.30" stroke="#EDB120" stroke-width="1.25" />
<circle cx="349.60" cy="354.50" r="9.6" fill="#EDB120" stroke="#1a1a1a" stroke-width="1.4"/>
<line x1="177.50" y1="138.20" x2="177.50" y2="191.20" stroke="#262626" stroke-width="1.6" />
<line x1="168.75" y1="138.20" x2="186.25" y2="138.20" stroke="#262626" stroke-width="1.6" />
<line x1="168.75" y1="191.20" x2="186.25" y2="191.20" stroke="#262626" stroke-width="1.6" />
<circle cx="177.50" cy="164.70" r="10.0" fill="#fff" stroke="#1a1a1a" stroke-width="1.4"/>
<line x1="169.20" y1="156.40" x2="185.80" y2="173.00" stroke="#FF0000" stroke-width="2.3" stroke-linecap="round"/>
<line x1="169.20" y1="173.00" x2="185.80" y2="156.40" stroke="#FF0000" stroke-width="2.3" stroke-linecap="round"/>
<circle cx="201.10" cy="133.30" r="10.0" fill="#fff" stroke="#1a1a1a" stroke-width="1.4"/>
<line x1="192.80" y1="125.00" x2="209.40" y2="141.60" stroke="#FF0000" stroke-width="2.3" stroke-linecap="round"/>
<line x1="192.80" y1="141.60" x2="209.40" y2="125.00" stroke="#FF0000" stroke-width="2.3" stroke-linecap="round"/>
<line x1="232.50" y1="102.00" x2="232.50" y2="163.60" stroke="#262626" stroke-width="1.6" />
<line x1="223.75" y1="102.00" x2="241.25" y2="102.00" stroke="#262626" stroke-width="1.6" />
<line x1="223.75" y1="163.60" x2="241.25" y2="163.60" stroke="#262626" stroke-width="1.6" />
<circle cx="232.50" cy="132.60" r="10.0" fill="#fff" stroke="#1a1a1a" stroke-width="1.4"/>
<line x1="224.20" y1="124.30" x2="240.80" y2="140.90" stroke="#FF0000" stroke-width="2.3" stroke-linecap="round"/>
<line x1="224.20" y1="140.90" x2="240.80" y2="124.30" stroke="#FF0000" stroke-width="2.3" stroke-linecap="round"/>
<line x1="317.90" y1="191.20" x2="317.90" y2="346.40" stroke="#262626" stroke-width="1.6" />
<line x1="309.15" y1="191.20" x2="326.65" y2="191.20" stroke="#262626" stroke-width="1.6" />
<line x1="309.15" y1="346.40" x2="326.65" y2="346.40" stroke="#262626" stroke-width="1.6" />
<circle cx="317.90" cy="268.80" r="10.0" fill="#fff" stroke="#1a1a1a" stroke-width="1.4"/>
<line x1="309.60" y1="260.50" x2="326.20" y2="277.10" stroke="#FF0000" stroke-width="2.3" stroke-linecap="round"/>
<line x1="309.60" y1="277.10" x2="326.20" y2="260.50" stroke="#FF0000" stroke-width="2.3" stroke-linecap="round"/>
<line x1="355.70" y1="267.70" x2="355.70" y2="334.20" stroke="#262626" stroke-width="1.6" />
<line x1="346.95" y1="267.70" x2="364.45" y2="267.70" stroke="#262626" stroke-width="1.6" />
<line x1="346.95" y1="334.20" x2="364.45" y2="334.20" stroke="#262626" stroke-width="1.6" />
<circle cx="355.70" cy="301.00" r="10.0" fill="#fff" stroke="#1a1a1a" stroke-width="1.4"/>
<line x1="347.40" y1="292.70" x2="364.00" y2="309.30" stroke="#FF0000" stroke-width="2.3" stroke-linecap="round"/>
<line x1="347.40" y1="309.30" x2="364.00" y2="292.70" stroke="#FF0000" stroke-width="2.3" stroke-linecap="round"/>
<line x1="381.20" y1="211.50" x2="381.20" y2="270.20" stroke="#262626" stroke-width="1.6" />
<line x1="372.45" y1="211.50" x2="389.95" y2="211.50" stroke="#262626" stroke-width="1.6" />
<line x1="372.45" y1="270.20" x2="389.95" y2="270.20" stroke="#262626" stroke-width="1.6" />
<circle cx="381.20" cy="240.60" r="10.0" fill="#fff" stroke="#1a1a1a" stroke-width="1.4"/>
<line x1="428.70" y1="183.50" x2="428.70" y2="294.00" stroke="#262626" stroke-width="1.6" />
<line x1="419.95" y1="183.50" x2="437.45" y2="183.50" stroke="#262626" stroke-width="1.6" />
<line x1="419.95" y1="294.00" x2="437.45" y2="294.00" stroke="#262626" stroke-width="1.6" />
<circle cx="428.70" cy="238.90" r="10.0" fill="#fff" stroke="#1a1a1a" stroke-width="1.4"/>
<line x1="406.20" y1="179.90" x2="406.20" y2="295.00" stroke="#262626" stroke-width="1.6" />
<line x1="397.45" y1="179.90" x2="414.95" y2="179.90" stroke="#262626" stroke-width="1.6" />
<line x1="397.45" y1="295.00" x2="414.95" y2="295.00" stroke="#262626" stroke-width="1.6" />
<rect x="398.20" y="229.60" width="16.0" height="16.0" rx="1.5" fill="#fff" stroke="#555" stroke-width="1.6"/>
<line x1="450.00" y1="244.80" x2="450.00" y2="304.80" stroke="#262626" stroke-width="1.6" />
<line x1="441.25" y1="244.80" x2="458.75" y2="244.80" stroke="#262626" stroke-width="1.6" />
<line x1="441.25" y1="304.80" x2="458.75" y2="304.80" stroke="#262626" stroke-width="1.6" />
<rect x="441.90" y="266.80" width="16.2" height="16.2" rx="0.5" fill="#fff" stroke="#6e6e6e" stroke-width="2.0"/>
<line x1="441.40" y1="266.30" x2="458.60" y2="283.50" stroke="#FF0000" stroke-width="2.3" stroke-linecap="round"/>
<line x1="441.40" y1="283.50" x2="458.60" y2="266.30" stroke="#FF0000" stroke-width="2.3" stroke-linecap="round"/>
<line x1="489.90" y1="247.40" x2="489.90" y2="337.30" stroke="#262626" stroke-width="1.6" />
<line x1="481.15" y1="247.40" x2="498.65" y2="247.40" stroke="#262626" stroke-width="1.6" />
<line x1="481.15" y1="337.30" x2="498.65" y2="337.30" stroke="#262626" stroke-width="1.6" />
<rect x="481.80" y="284.30" width="16.2" height="16.2" rx="0.5" fill="#fff" stroke="#6e6e6e" stroke-width="2.0"/>
<line x1="481.30" y1="283.80" x2="498.50" y2="301.00" stroke="#FF0000" stroke-width="2.3" stroke-linecap="round"/>
<line x1="481.30" y1="301.00" x2="498.50" y2="283.80" stroke="#FF0000" stroke-width="2.3" stroke-linecap="round"/>
<line x1="537.00" y1="226.30" x2="537.00" y2="285.20" stroke="#262626" stroke-width="1.6" />
<line x1="528.25" y1="226.30" x2="545.75" y2="226.30" stroke="#262626" stroke-width="1.6" />
<line x1="528.25" y1="285.20" x2="545.75" y2="285.20" stroke="#262626" stroke-width="1.6" />
<rect x="528.90" y="247.40" width="16.2" height="16.2" rx="0.5" fill="#fff" stroke="#6e6e6e" stroke-width="2.0"/>
<line x1="528.40" y1="246.90" x2="545.60" y2="264.10" stroke="#FF0000" stroke-width="2.3" stroke-linecap="round"/>
<line x1="528.40" y1="264.10" x2="545.60" y2="246.90" stroke="#FF0000" stroke-width="2.3" stroke-linecap="round"/>
<line x1="574.50" y1="192.20" x2="574.50" y2="316.50" stroke="#262626" stroke-width="1.6" />
<line x1="565.75" y1="192.20" x2="583.25" y2="192.20" stroke="#262626" stroke-width="1.6" />
<line x1="565.75" y1="316.50" x2="583.25" y2="316.50" stroke="#262626" stroke-width="1.6" />
<rect x="566.40" y="246.20" width="16.2" height="16.2" rx="0.5" fill="#fff" stroke="#6e6e6e" stroke-width="2.0"/>
<line x1="565.90" y1="245.70" x2="583.10" y2="262.90" stroke="#FF0000" stroke-width="2.3" stroke-linecap="round"/>
<line x1="565.90" y1="262.90" x2="583.10" y2="245.70" stroke="#FF0000" stroke-width="2.3" stroke-linecap="round"/>
<line x1="594.40" y1="182.10" x2="594.40" y2="242.50" stroke="#262626" stroke-width="1.6" />
<line x1="585.65" y1="182.10" x2="603.15" y2="182.10" stroke="#262626" stroke-width="1.6" />
<line x1="585.65" y1="242.50" x2="603.15" y2="242.50" stroke="#262626" stroke-width="1.6" />
<rect x="586.30" y="204.20" width="16.2" height="16.2" rx="0.5" fill="#fff" stroke="#6e6e6e" stroke-width="2.0"/>
<line x1="585.80" y1="203.70" x2="603.00" y2="220.90" stroke="#FF0000" stroke-width="2.3" stroke-linecap="round"/>
<line x1="585.80" y1="220.90" x2="603.00" y2="203.70" stroke="#FF0000" stroke-width="2.3" stroke-linecap="round"/>
<line x1="643.20" y1="149.60" x2="643.20" y2="258.90" stroke="#262626" stroke-width="1.6" />
<line x1="634.45" y1="149.60" x2="651.95" y2="149.60" stroke="#262626" stroke-width="1.6" />
<line x1="634.45" y1="258.90" x2="651.95" y2="258.90" stroke="#262626" stroke-width="1.6" />
<rect x="635.10" y="196.00" width="16.2" height="16.2" rx="0.5" fill="#fff" stroke="#6e6e6e" stroke-width="2.0"/>
<line x1="634.60" y1="195.50" x2="651.80" y2="212.70" stroke="#FF0000" stroke-width="2.3" stroke-linecap="round"/>
<line x1="634.60" y1="212.70" x2="651.80" y2="195.50" stroke="#FF0000" stroke-width="2.3" stroke-linecap="round"/>
<line x1="147.5" y1="232.2" x2="668" y2="232.2" stroke="#FF0000" stroke-width="2.7" stroke-linecap="round" stroke-dasharray="0.01 10.07"/>
<line x1="519.70" y1="448.10" x2="519.70" y2="596.70" stroke="#77AC30" stroke-width="1.25" />
<line x1="510.95" y1="448.10" x2="528.45" y2="448.10" stroke="#77AC30" stroke-width="1.25" />
<line x1="510.95" y1="596.70" x2="528.45" y2="596.70" stroke="#77AC30" stroke-width="1.25" />
<polygon points="519.70,509.10 529.60,522.40 519.70,535.70 509.80,522.40" fill="#77AC30" stroke="#1a1a1a" stroke-width="1.4" stroke-linejoin="round"/>
<line x1="545.40" y1="563.00" x2="545.40" y2="620.40" stroke="#77AC30" stroke-width="1.25" />
<line x1="536.65" y1="563.00" x2="554.15" y2="563.00" stroke="#77AC30" stroke-width="1.25" />
<line x1="536.65" y1="620.40" x2="554.15" y2="620.40" stroke="#77AC30" stroke-width="1.25" />
<polygon points="545.40,578.20 557.09,598.45 533.71,598.45" fill="#77AC30" stroke="#1a1a1a" stroke-width="1.4" stroke-linejoin="round"/>
<line x1="411.60" y1="438.00" x2="411.60" y2="447.30" stroke="#A2142F" stroke-width="1.3" />
<line x1="402.85" y1="438.00" x2="420.35" y2="438.00" stroke="#A2142F" stroke-width="1.3" />
<line x1="402.85" y1="447.30" x2="420.35" y2="447.30" stroke="#A2142F" stroke-width="1.3" />
<polygon points="398.10,442.60 418.35,430.91 418.35,454.29" fill="#A2142F" stroke="#1a1a1a" stroke-width="1.4" stroke-linejoin="round"/>
<line x1="490.30" y1="438.30" x2="490.30" y2="569.00" stroke="#A2142F" stroke-width="1.3" />
<line x1="481.55" y1="438.30" x2="499.05" y2="438.30" stroke="#A2142F" stroke-width="1.3" />
<line x1="481.55" y1="569.00" x2="499.05" y2="569.00" stroke="#A2142F" stroke-width="1.3" />
<polygon points="476.80,503.65 497.05,491.96 497.05,515.34" fill="#A2142F" stroke="#1a1a1a" stroke-width="1.4" stroke-linejoin="round"/>
<line x1="269.00" y1="556.80" x2="269.00" y2="654.60" stroke="#EDB120" stroke-width="1.25" />
<line x1="260.25" y1="556.80" x2="277.75" y2="556.80" stroke="#EDB120" stroke-width="1.25" />
<line x1="260.25" y1="654.60" x2="277.75" y2="654.60" stroke="#EDB120" stroke-width="1.25" />
<polygon points="269.00,619.20 257.31,598.95 280.69,598.95" fill="#EDB120" stroke="#1a1a1a" stroke-width="1.4" stroke-linejoin="round"/>
<line x1="558.40" y1="479.40" x2="558.40" y2="504.80" stroke="#EDB120" stroke-width="1.25" />
<line x1="549.65" y1="479.40" x2="567.15" y2="479.40" stroke="#EDB120" stroke-width="1.25" />
<line x1="549.65" y1="504.80" x2="567.15" y2="504.80" stroke="#EDB120" stroke-width="1.25" />
<polygon points="558.40,478.60 570.09,498.85 546.71,498.85" fill="#EDB120" stroke="#1a1a1a" stroke-width="1.4" stroke-linejoin="round"/>
<line x1="439.80" y1="475.70" x2="439.80" y2="607.70" stroke="#EDB120" stroke-width="1.25" />
<line x1="431.05" y1="475.70" x2="448.55" y2="475.70" stroke="#EDB120" stroke-width="1.25" />
<line x1="431.05" y1="607.70" x2="448.55" y2="607.70" stroke="#EDB120" stroke-width="1.25" />
<polygon points="439.80,528.40 449.70,541.70 439.80,555.00 429.90,541.70" fill="#EDB120" stroke="#1a1a1a" stroke-width="1.4" stroke-linejoin="round"/>
<polygon points="322.70,681.00 342.95,669.31 342.95,692.69" fill="#EDB120" stroke="#1a1a1a" stroke-width="1.4" stroke-linejoin="round"/>
<line x1="535.50" y1="448.90" x2="535.50" y2="463.70" stroke="#EDB120" stroke-width="1.25" />
<line x1="526.75" y1="448.90" x2="544.25" y2="448.90" stroke="#EDB120" stroke-width="1.25" />
<line x1="526.75" y1="463.70" x2="544.25" y2="463.70" stroke="#EDB120" stroke-width="1.25" />
<polygon points="549.00,456.70 528.75,468.39 528.75,445.01" fill="#EDB120" stroke="#1a1a1a" stroke-width="1.4" stroke-linejoin="round"/>
<rect x="360.75" y="671.25" width="15.5" height="15.5" rx="2" fill="#EDB120" stroke="#1a1a1a" stroke-width="1.4"/>
<line x1="349.40" y1="586.70" x2="349.40" y2="676.60" stroke="#EDB120" stroke-width="1.25" />
<line x1="340.65" y1="586.70" x2="358.15" y2="586.70" stroke="#EDB120" stroke-width="1.25" />
<line x1="340.65" y1="676.60" x2="358.15" y2="676.60" stroke="#EDB120" stroke-width="1.25" />
<circle cx="349.40" cy="631.70" r="9.6" fill="#EDB120" stroke="#1a1a1a" stroke-width="1.4"/>
<circle cx="177.50" cy="497.80" r="10.0" fill="#fff" stroke="#1a1a1a" stroke-width="1.4"/>
<line x1="169.20" y1="489.50" x2="185.80" y2="506.10" stroke="#FF0000" stroke-width="2.3" stroke-linecap="round"/>
<line x1="169.20" y1="506.10" x2="185.80" y2="489.50" stroke="#FF0000" stroke-width="2.3" stroke-linecap="round"/>
<circle cx="201.10" cy="492.60" r="10.0" fill="#fff" stroke="#1a1a1a" stroke-width="1.4"/>
<line x1="192.80" y1="484.30" x2="209.40" y2="500.90" stroke="#FF0000" stroke-width="2.3" stroke-linecap="round"/>
<line x1="192.80" y1="500.90" x2="209.40" y2="484.30" stroke="#FF0000" stroke-width="2.3" stroke-linecap="round"/>
<circle cx="232.80" cy="482.60" r="10.0" fill="#fff" stroke="#1a1a1a" stroke-width="1.4"/>
<line x1="224.50" y1="474.30" x2="241.10" y2="490.90" stroke="#FF0000" stroke-width="2.3" stroke-linecap="round"/>
<line x1="224.50" y1="490.90" x2="241.10" y2="474.30" stroke="#FF0000" stroke-width="2.3" stroke-linecap="round"/>
<line x1="317.90" y1="468.40" x2="317.90" y2="499.40" stroke="#262626" stroke-width="1.6" />
<line x1="309.15" y1="468.40" x2="326.65" y2="468.40" stroke="#262626" stroke-width="1.6" />
<line x1="309.15" y1="499.40" x2="326.65" y2="499.40" stroke="#262626" stroke-width="1.6" />
<circle cx="317.90" cy="483.90" r="10.0" fill="#fff" stroke="#1a1a1a" stroke-width="1.4"/>
<line x1="309.60" y1="475.60" x2="326.20" y2="492.20" stroke="#FF0000" stroke-width="2.3" stroke-linecap="round"/>
<line x1="309.60" y1="492.20" x2="326.20" y2="475.60" stroke="#FF0000" stroke-width="2.3" stroke-linecap="round"/>
<circle cx="355.50" cy="473.80" r="10.0" fill="#fff" stroke="#1a1a1a" stroke-width="1.4"/>
<line x1="347.20" y1="465.50" x2="363.80" y2="482.10" stroke="#FF0000" stroke-width="2.3" stroke-linecap="round"/>
<line x1="347.20" y1="482.10" x2="363.80" y2="465.50" stroke="#FF0000" stroke-width="2.3" stroke-linecap="round"/>
<circle cx="381.40" cy="453.00" r="10.0" fill="#fff" stroke="#1a1a1a" stroke-width="1.4"/>
<circle cx="428.80" cy="456.70" r="10.0" fill="#fff" stroke="#1a1a1a" stroke-width="1.4"/>
<rect x="398.10" y="470.60" width="16.0" height="16.0" rx="1.5" fill="#fff" stroke="#555" stroke-width="1.6"/>
<line x1="450.10" y1="473.80" x2="450.10" y2="497.00" stroke="#262626" stroke-width="1.6" />
<line x1="441.35" y1="473.80" x2="458.85" y2="473.80" stroke="#262626" stroke-width="1.6" />
<line x1="441.35" y1="497.00" x2="458.85" y2="497.00" stroke="#262626" stroke-width="1.6" />
<rect x="442.00" y="477.30" width="16.2" height="16.2" rx="0.5" fill="#fff" stroke="#6e6e6e" stroke-width="2.0"/>
<line x1="441.50" y1="476.80" x2="458.70" y2="494.00" stroke="#FF0000" stroke-width="2.3" stroke-linecap="round"/>
<line x1="441.50" y1="494.00" x2="458.70" y2="476.80" stroke="#FF0000" stroke-width="2.3" stroke-linecap="round"/>
<rect x="482.10" y="490.80" width="16.2" height="16.2" rx="0.5" fill="#fff" stroke="#6e6e6e" stroke-width="2.0"/>
<line x1="481.60" y1="490.30" x2="498.80" y2="507.50" stroke="#FF0000" stroke-width="2.3" stroke-linecap="round"/>
<line x1="481.60" y1="507.50" x2="498.80" y2="490.30" stroke="#FF0000" stroke-width="2.3" stroke-linecap="round"/>
<rect x="528.30" y="489.60" width="16.2" height="16.2" rx="0.5" fill="#fff" stroke="#6e6e6e" stroke-width="2.0"/>
<line x1="527.80" y1="489.10" x2="545.00" y2="506.30" stroke="#FF0000" stroke-width="2.3" stroke-linecap="round"/>
<line x1="527.80" y1="506.30" x2="545.00" y2="489.10" stroke="#FF0000" stroke-width="2.3" stroke-linecap="round"/>
<rect x="565.90" y="493.80" width="16.2" height="16.2" rx="0.5" fill="#fff" stroke="#6e6e6e" stroke-width="2.0"/>
<line x1="565.40" y1="493.30" x2="582.60" y2="510.50" stroke="#FF0000" stroke-width="2.3" stroke-linecap="round"/>
<line x1="565.40" y1="510.50" x2="582.60" y2="493.30" stroke="#FF0000" stroke-width="2.3" stroke-linecap="round"/>
<rect x="586.20" y="485.70" width="16.2" height="16.2" rx="0.5" fill="#fff" stroke="#6e6e6e" stroke-width="2.0"/>
<line x1="585.70" y1="485.20" x2="602.90" y2="502.40" stroke="#FF0000" stroke-width="2.3" stroke-linecap="round"/>
<line x1="585.70" y1="502.40" x2="602.90" y2="485.20" stroke="#FF0000" stroke-width="2.3" stroke-linecap="round"/>
<rect x="635.10" y="488.90" width="16.2" height="16.2" rx="0.5" fill="#fff" stroke="#6e6e6e" stroke-width="2.0"/>
<line x1="634.60" y1="488.40" x2="651.80" y2="505.60" stroke="#FF0000" stroke-width="2.3" stroke-linecap="round"/>
<line x1="634.60" y1="505.60" x2="651.80" y2="488.40" stroke="#FF0000" stroke-width="2.3" stroke-linecap="round"/>
<text x="175.34" y="488.40" font-size="25.5" font-weight="normal" fill="#000" >3</text>
<text x="198.14" y="485.00" font-size="25.5" font-weight="normal" fill="#000" >3</text>
<text x="229.49" y="474.70" font-size="25.5" font-weight="normal" fill="#000" >3</text>
<text x="316.29" y="476.60" font-size="25.5" font-weight="normal" fill="#000" >3</text>
<text x="352.99" y="466.90" font-size="25.5" font-weight="normal" fill="#000" >3</text>
<text x="378.59" y="446.10" font-size="25.5" font-weight="normal" fill="#000" >3</text>
<text x="424.79" y="449.80" font-size="25.5" font-weight="normal" fill="#000" >3</text>
<text x="402.79" y="471.00" font-size="25.5" font-weight="normal" fill="#000" >3</text>
<text x="446.79" y="477.90" font-size="25.5" font-weight="normal" fill="#000" >3</text>
<text x="486.99" y="490.00" font-size="25.5" font-weight="normal" fill="#000" >3</text>
<text x="487.29" y="496.00" font-size="25.5" font-weight="normal" fill="#000" >4</text>
<text x="534.69" y="489.60" font-size="25.5" font-weight="normal" fill="#000" >3</text>
<text x="571.39" y="492.50" font-size="25.5" font-weight="normal" fill="#000" >3</text>
<text x="592.19" y="485.20" font-size="25.5" font-weight="normal" fill="#000" >3</text>
<text x="640.99" y="488.90" font-size="25.5" font-weight="normal" fill="#000" >3</text>
<text x="408.82" y="433.90" font-size="25.5" font-weight="normal" fill="#000" >5</text>
<text x="517.59" y="515.70" font-size="25.5" font-weight="normal" fill="#000" >4</text>
<text x="543.22" y="583.00" font-size="25.5" font-weight="normal" fill="#000" >5</text>
<text x="260.24" y="597.60" font-size="25.5" font-weight="normal" fill="#000" >10</text>
<text x="555.36" y="482.80" font-size="25.5" font-weight="normal" fill="#000" >2</text>
<text x="436.92" y="534.00" font-size="25.5" font-weight="normal" fill="#000" >5</text>
<text x="331.74" y="673.40" font-size="25.5" font-weight="normal" fill="#000" >1</text>
<text x="533.36" y="448.50" font-size="25.5" font-weight="normal" fill="#000" >2</text>
<text x="364.74" y="671.00" font-size="25.5" font-weight="normal" fill="#000" >1</text>
<text x="347.86" y="623.30" font-size="25.5" font-weight="normal" fill="#000" >2</text>
<line x1="519.70" y1="841.60" x2="519.70" y2="895.40" stroke="#77AC30" stroke-width="1.25" />
<line x1="510.95" y1="841.60" x2="528.45" y2="841.60" stroke="#77AC30" stroke-width="1.25" />
<line x1="510.95" y1="895.40" x2="528.45" y2="895.40" stroke="#77AC30" stroke-width="1.25" />
<polygon points="519.70,855.20 529.60,868.50 519.70,881.80 509.80,868.50" fill="#77AC30" stroke="#1a1a1a" stroke-width="1.4" stroke-linejoin="round"/>
<line x1="545.40" y1="845.30" x2="545.40" y2="858.70" stroke="#77AC30" stroke-width="1.25" />
<line x1="536.65" y1="845.30" x2="554.15" y2="845.30" stroke="#77AC30" stroke-width="1.25" />
<line x1="536.65" y1="858.70" x2="554.15" y2="858.70" stroke="#77AC30" stroke-width="1.25" />
<polygon points="545.40,838.50 557.09,858.75 533.71,858.75" fill="#77AC30" stroke="#1a1a1a" stroke-width="1.4" stroke-linejoin="round"/>
<line x1="412.20" y1="880.20" x2="412.20" y2="912.50" stroke="#A2142F" stroke-width="1.3" />
<line x1="403.45" y1="880.20" x2="420.95" y2="880.20" stroke="#A2142F" stroke-width="1.3" />
<line x1="403.45" y1="912.50" x2="420.95" y2="912.50" stroke="#A2142F" stroke-width="1.3" />
<polygon points="398.70,896.35 418.95,884.66 418.95,908.04" fill="#A2142F" stroke="#1a1a1a" stroke-width="1.4" stroke-linejoin="round"/>
<line x1="490.40" y1="795.20" x2="490.40" y2="854.30" stroke="#A2142F" stroke-width="1.3" />
<line x1="481.65" y1="795.20" x2="499.15" y2="795.20" stroke="#A2142F" stroke-width="1.3" />
<line x1="481.65" y1="854.30" x2="499.15" y2="854.30" stroke="#A2142F" stroke-width="1.3" />
<polygon points="476.90,824.75 497.15,813.06 497.15,836.44" fill="#A2142F" stroke="#1a1a1a" stroke-width="1.4" stroke-linejoin="round"/>
<line x1="269.00" y1="798.00" x2="269.00" y2="804.60" stroke="#EDB120" stroke-width="1.25" />
<line x1="260.25" y1="798.00" x2="277.75" y2="798.00" stroke="#EDB120" stroke-width="1.25" />
<line x1="260.25" y1="804.60" x2="277.75" y2="804.60" stroke="#EDB120" stroke-width="1.25" />
<polygon points="269.00,814.80 257.31,794.55 280.69,794.55" fill="#EDB120" stroke="#1a1a1a" stroke-width="1.4" stroke-linejoin="round"/>
<line x1="558.40" y1="781.80" x2="558.40" y2="793.20" stroke="#EDB120" stroke-width="1.25" />
<line x1="549.65" y1="781.80" x2="567.15" y2="781.80" stroke="#EDB120" stroke-width="1.25" />
<line x1="549.65" y1="793.20" x2="567.15" y2="793.20" stroke="#EDB120" stroke-width="1.25" />
<polygon points="558.40,774.00 570.09,794.25 546.71,794.25" fill="#EDB120" stroke="#1a1a1a" stroke-width="1.4" stroke-linejoin="round"/>
<line x1="439.80" y1="916.20" x2="439.80" y2="983.40" stroke="#EDB120" stroke-width="1.25" />
<line x1="431.05" y1="916.20" x2="448.55" y2="916.20" stroke="#EDB120" stroke-width="1.25" />
<line x1="431.05" y1="983.40" x2="448.55" y2="983.40" stroke="#EDB120" stroke-width="1.25" />
<polygon points="439.80,936.50 449.70,949.80 439.80,963.10 429.90,949.80" fill="#EDB120" stroke="#1a1a1a" stroke-width="1.4" stroke-linejoin="round"/>
<polygon points="322.70,908.80 342.95,897.11 342.95,920.49" fill="#EDB120" stroke="#1a1a1a" stroke-width="1.4" stroke-linejoin="round"/>
<line x1="535.20" y1="831.40" x2="535.20" y2="901.50" stroke="#EDB120" stroke-width="1.25" />
<line x1="526.45" y1="831.40" x2="543.95" y2="831.40" stroke="#EDB120" stroke-width="1.25" />
<line x1="526.45" y1="901.50" x2="543.95" y2="901.50" stroke="#EDB120" stroke-width="1.25" />
<polygon points="548.70,866.45 528.45,878.14 528.45,854.76" fill="#EDB120" stroke="#1a1a1a" stroke-width="1.4" stroke-linejoin="round"/>
<rect x="360.75" y="941.45" width="15.5" height="15.5" rx="2" fill="#EDB120" stroke="#1a1a1a" stroke-width="1.4"/>
<line x1="349.00" y1="836.30" x2="349.00" y2="860.00" stroke="#EDB120" stroke-width="1.25" />
<line x1="340.25" y1="836.30" x2="357.75" y2="836.30" stroke="#EDB120" stroke-width="1.25" />
<line x1="340.25" y1="860.00" x2="357.75" y2="860.00" stroke="#EDB120" stroke-width="1.25" />
<circle cx="349.00" cy="848.15" r="9.6" fill="#EDB120" stroke="#1a1a1a" stroke-width="1.4"/>
<circle cx="177.10" cy="771.30" r="10.0" fill="#fff" stroke="#1a1a1a" stroke-width="1.4"/>
<line x1="168.80" y1="763.00" x2="185.40" y2="779.60" stroke="#FF0000" stroke-width="2.3" stroke-linecap="round"/>
<line x1="168.80" y1="779.60" x2="185.40" y2="763.00" stroke="#FF0000" stroke-width="2.3" stroke-linecap="round"/>
<line x1="201.10" y1="782.50" x2="201.10" y2="812.30" stroke="#262626" stroke-width="1.6" />
<line x1="192.35" y1="782.50" x2="209.85" y2="782.50" stroke="#262626" stroke-width="1.6" />
<line x1="192.35" y1="812.30" x2="209.85" y2="812.30" stroke="#262626" stroke-width="1.6" />
<circle cx="201.10" cy="797.40" r="10.0" fill="#fff" stroke="#1a1a1a" stroke-width="1.4"/>
<line x1="192.80" y1="789.10" x2="209.40" y2="805.70" stroke="#FF0000" stroke-width="2.3" stroke-linecap="round"/>
<line x1="192.80" y1="805.70" x2="209.40" y2="789.10" stroke="#FF0000" stroke-width="2.3" stroke-linecap="round"/>
<line x1="232.40" y1="807.90" x2="232.40" y2="925.90" stroke="#262626" stroke-width="1.6" />
<line x1="223.65" y1="807.90" x2="241.15" y2="807.90" stroke="#262626" stroke-width="1.6" />
<line x1="223.65" y1="925.90" x2="241.15" y2="925.90" stroke="#262626" stroke-width="1.6" />
<circle cx="232.40" cy="866.90" r="10.0" fill="#fff" stroke="#1a1a1a" stroke-width="1.4"/>
<line x1="224.10" y1="858.60" x2="240.70" y2="875.20" stroke="#FF0000" stroke-width="2.3" stroke-linecap="round"/>
<line x1="224.10" y1="875.20" x2="240.70" y2="858.60" stroke="#FF0000" stroke-width="2.3" stroke-linecap="round"/>
<line x1="317.90" y1="830.10" x2="317.90" y2="935.70" stroke="#262626" stroke-width="1.6" />
<line x1="309.15" y1="830.10" x2="326.65" y2="830.10" stroke="#262626" stroke-width="1.6" />
<line x1="309.15" y1="935.70" x2="326.65" y2="935.70" stroke="#262626" stroke-width="1.6" />
<circle cx="317.90" cy="882.90" r="10.0" fill="#fff" stroke="#1a1a1a" stroke-width="1.4"/>
<line x1="309.60" y1="874.60" x2="326.20" y2="891.20" stroke="#FF0000" stroke-width="2.3" stroke-linecap="round"/>
<line x1="309.60" y1="891.20" x2="326.20" y2="874.60" stroke="#FF0000" stroke-width="2.3" stroke-linecap="round"/>
<line x1="355.50" y1="835.50" x2="355.50" y2="899.00" stroke="#262626" stroke-width="1.6" />
<line x1="346.75" y1="835.50" x2="364.25" y2="835.50" stroke="#262626" stroke-width="1.6" />
<line x1="346.75" y1="899.00" x2="364.25" y2="899.00" stroke="#262626" stroke-width="1.6" />
<circle cx="355.50" cy="867.25" r="10.0" fill="#fff" stroke="#1a1a1a" stroke-width="1.4"/>
<line x1="347.20" y1="858.95" x2="363.80" y2="875.55" stroke="#FF0000" stroke-width="2.3" stroke-linecap="round"/>
<line x1="347.20" y1="875.55" x2="363.80" y2="858.95" stroke="#FF0000" stroke-width="2.3" stroke-linecap="round"/>
<line x1="381.00" y1="872.70" x2="381.00" y2="910.50" stroke="#262626" stroke-width="1.6" />
<line x1="372.25" y1="872.70" x2="389.75" y2="872.70" stroke="#262626" stroke-width="1.6" />
<line x1="372.25" y1="910.50" x2="389.75" y2="910.50" stroke="#262626" stroke-width="1.6" />
<circle cx="381.00" cy="891.60" r="10.0" fill="#fff" stroke="#1a1a1a" stroke-width="1.4"/>
<line x1="428.80" y1="884.40" x2="428.80" y2="946.00" stroke="#262626" stroke-width="1.6" />
<line x1="420.05" y1="884.40" x2="437.55" y2="884.40" stroke="#262626" stroke-width="1.6" />
<line x1="420.05" y1="946.00" x2="437.55" y2="946.00" stroke="#262626" stroke-width="1.6" />
<circle cx="428.80" cy="915.20" r="10.0" fill="#fff" stroke="#1a1a1a" stroke-width="1.4"/>
<line x1="406.20" y1="858.00" x2="406.20" y2="927.70" stroke="#262626" stroke-width="1.6" />
<line x1="397.45" y1="858.00" x2="414.95" y2="858.00" stroke="#262626" stroke-width="1.6" />
<line x1="397.45" y1="927.70" x2="414.95" y2="927.70" stroke="#262626" stroke-width="1.6" />
<rect x="398.20" y="884.85" width="16.0" height="16.0" rx="1.5" fill="#fff" stroke="#555" stroke-width="1.6"/>
<line x1="450.10" y1="875.40" x2="450.10" y2="915.70" stroke="#262626" stroke-width="1.6" />
<line x1="441.35" y1="875.40" x2="458.85" y2="875.40" stroke="#262626" stroke-width="1.6" />
<line x1="441.35" y1="915.70" x2="458.85" y2="915.70" stroke="#262626" stroke-width="1.6" />
<rect x="442.00" y="887.45" width="16.2" height="16.2" rx="0.5" fill="#fff" stroke="#6e6e6e" stroke-width="2.0"/>
<line x1="441.50" y1="886.95" x2="458.70" y2="904.15" stroke="#FF0000" stroke-width="2.3" stroke-linecap="round"/>
<line x1="441.50" y1="904.15" x2="458.70" y2="886.95" stroke="#FF0000" stroke-width="2.3" stroke-linecap="round"/>
<rect x="481.80" y="872.10" width="16.2" height="16.2" rx="0.5" fill="#fff" stroke="#6e6e6e" stroke-width="2.0"/>
<line x1="481.30" y1="871.60" x2="498.50" y2="888.80" stroke="#FF0000" stroke-width="2.3" stroke-linecap="round"/>
<line x1="481.30" y1="888.80" x2="498.50" y2="871.60" stroke="#FF0000" stroke-width="2.3" stroke-linecap="round"/>
<rect x="528.30" y="861.60" width="16.2" height="16.2" rx="0.5" fill="#fff" stroke="#6e6e6e" stroke-width="2.0"/>
<line x1="527.80" y1="861.10" x2="545.00" y2="878.30" stroke="#FF0000" stroke-width="2.3" stroke-linecap="round"/>
<line x1="527.80" y1="878.30" x2="545.00" y2="861.10" stroke="#FF0000" stroke-width="2.3" stroke-linecap="round"/>
<line x1="574.00" y1="792.80" x2="574.00" y2="886.10" stroke="#262626" stroke-width="1.6" />
<line x1="565.25" y1="792.80" x2="582.75" y2="792.80" stroke="#262626" stroke-width="1.6" />
<line x1="565.25" y1="886.10" x2="582.75" y2="886.10" stroke="#262626" stroke-width="1.6" />
<rect x="565.90" y="831.35" width="16.2" height="16.2" rx="0.5" fill="#fff" stroke="#6e6e6e" stroke-width="2.0"/>
<line x1="565.40" y1="830.85" x2="582.60" y2="848.05" stroke="#FF0000" stroke-width="2.3" stroke-linecap="round"/>
<line x1="565.40" y1="848.05" x2="582.60" y2="830.85" stroke="#FF0000" stroke-width="2.3" stroke-linecap="round"/>
<line x1="594.30" y1="745.10" x2="594.30" y2="811.10" stroke="#262626" stroke-width="1.6" />
<line x1="585.55" y1="745.10" x2="603.05" y2="745.10" stroke="#262626" stroke-width="1.6" />
<line x1="585.55" y1="811.10" x2="603.05" y2="811.10" stroke="#262626" stroke-width="1.6" />
<rect x="586.20" y="770.00" width="16.2" height="16.2" rx="0.5" fill="#fff" stroke="#6e6e6e" stroke-width="2.0"/>
<line x1="585.70" y1="769.50" x2="602.90" y2="786.70" stroke="#FF0000" stroke-width="2.3" stroke-linecap="round"/>
<line x1="585.70" y1="786.70" x2="602.90" y2="769.50" stroke="#FF0000" stroke-width="2.3" stroke-linecap="round"/>
<line x1="643.20" y1="761.70" x2="643.20" y2="801.30" stroke="#262626" stroke-width="1.6" />
<line x1="634.45" y1="761.70" x2="651.95" y2="761.70" stroke="#262626" stroke-width="1.6" />
<line x1="634.45" y1="801.30" x2="651.95" y2="801.30" stroke="#262626" stroke-width="1.6" />
<rect x="635.10" y="773.40" width="16.2" height="16.2" rx="0.5" fill="#fff" stroke="#6e6e6e" stroke-width="2.0"/>
<line x1="634.60" y1="772.90" x2="651.80" y2="790.10" stroke="#FF0000" stroke-width="2.3" stroke-linecap="round"/>
<line x1="634.60" y1="790.10" x2="651.80" y2="772.90" stroke="#FF0000" stroke-width="2.3" stroke-linecap="round"/>
<line x1="1083.50" y1="419.50" x2="1083.50" y2="531.20" stroke="#77AC30" stroke-width="1.25" />
<line x1="1074.75" y1="419.50" x2="1092.25" y2="419.50" stroke="#77AC30" stroke-width="1.25" />
<line x1="1074.75" y1="531.20" x2="1092.25" y2="531.20" stroke="#77AC30" stroke-width="1.25" />
<polygon points="1083.50,462.05 1093.40,475.35 1083.50,488.65 1073.60,475.35" fill="#77AC30" stroke="#1a1a1a" stroke-width="1.4" stroke-linejoin="round"/>
<line x1="1109.90" y1="459.00" x2="1109.90" y2="468.00" stroke="#77AC30" stroke-width="1.25" />
<line x1="1101.15" y1="459.00" x2="1118.65" y2="459.00" stroke="#77AC30" stroke-width="1.25" />
<line x1="1101.15" y1="468.00" x2="1118.65" y2="468.00" stroke="#77AC30" stroke-width="1.25" />
<polygon points="1109.90,450.00 1121.59,470.25 1098.21,470.25" fill="#77AC30" stroke="#1a1a1a" stroke-width="1.4" stroke-linejoin="round"/>
<polygon points="965.70,532.40 985.95,520.71 985.95,544.09" fill="#A2142F" stroke="#1a1a1a" stroke-width="1.4" stroke-linejoin="round"/>
<line x1="1054.20" y1="403.30" x2="1054.20" y2="537.80" stroke="#A2142F" stroke-width="1.3" />
<line x1="1045.45" y1="403.30" x2="1062.95" y2="403.30" stroke="#A2142F" stroke-width="1.3" />
<line x1="1045.45" y1="537.80" x2="1062.95" y2="537.80" stroke="#A2142F" stroke-width="1.3" />
<polygon points="1040.70,470.35 1060.95,458.66 1060.95,482.04" fill="#A2142F" stroke="#1a1a1a" stroke-width="1.4" stroke-linejoin="round"/>
<line x1="834.50" y1="489.00" x2="834.50" y2="503.60" stroke="#EDB120" stroke-width="1.25" />
<line x1="825.75" y1="489.00" x2="843.25" y2="489.00" stroke="#EDB120" stroke-width="1.25" />
<line x1="825.75" y1="503.60" x2="843.25" y2="503.60" stroke="#EDB120" stroke-width="1.25" />
<polygon points="834.50,509.80 822.81,489.55 846.19,489.55" fill="#EDB120" stroke="#1a1a1a" stroke-width="1.4" stroke-linejoin="round"/>
<line x1="1122.10" y1="477.40" x2="1122.10" y2="540.20" stroke="#EDB120" stroke-width="1.25" />
<line x1="1113.35" y1="477.40" x2="1130.85" y2="477.40" stroke="#EDB120" stroke-width="1.25" />
<line x1="1113.35" y1="540.20" x2="1130.85" y2="540.20" stroke="#EDB120" stroke-width="1.25" />
<polygon points="1122.10,495.30 1133.79,515.55 1110.41,515.55" fill="#EDB120" stroke="#1a1a1a" stroke-width="1.4" stroke-linejoin="round"/>
<line x1="1004.10" y1="539.00" x2="1004.10" y2="595.50" stroke="#EDB120" stroke-width="1.25" />
<line x1="995.35" y1="539.00" x2="1012.85" y2="539.00" stroke="#EDB120" stroke-width="1.25" />
<line x1="995.35" y1="595.50" x2="1012.85" y2="595.50" stroke="#EDB120" stroke-width="1.25" />
<polygon points="1004.10,553.95 1014.00,567.25 1004.10,580.55 994.20,567.25" fill="#EDB120" stroke="#1a1a1a" stroke-width="1.4" stroke-linejoin="round"/>
<polygon points="887.10,523.90 907.35,512.21 907.35,535.59" fill="#EDB120" stroke="#1a1a1a" stroke-width="1.4" stroke-linejoin="round"/>
<line x1="1100.00" y1="473.80" x2="1100.00" y2="512.90" stroke="#EDB120" stroke-width="1.25" />
<line x1="1091.25" y1="473.80" x2="1108.75" y2="473.80" stroke="#EDB120" stroke-width="1.25" />
<line x1="1091.25" y1="512.90" x2="1108.75" y2="512.90" stroke="#EDB120" stroke-width="1.25" />
<polygon points="1113.50,493.30 1093.25,504.99 1093.25,481.61" fill="#EDB120" stroke="#1a1a1a" stroke-width="1.4" stroke-linejoin="round"/>
<rect x="925.75" y="489.95" width="15.5" height="15.5" rx="2" fill="#EDB120" stroke="#1a1a1a" stroke-width="1.4"/>
<line x1="914.00" y1="530.50" x2="914.00" y2="557.60" stroke="#EDB120" stroke-width="1.25" />
<line x1="905.25" y1="530.50" x2="922.75" y2="530.50" stroke="#EDB120" stroke-width="1.25" />
<line x1="905.25" y1="557.60" x2="922.75" y2="557.60" stroke="#EDB120" stroke-width="1.25" />
<circle cx="914.00" cy="544.05" r="9.6" fill="#EDB120" stroke="#1a1a1a" stroke-width="1.4"/>
<line x1="742.90" y1="546.30" x2="742.90" y2="578.10" stroke="#262626" stroke-width="1.6" />
<line x1="734.15" y1="546.30" x2="751.65" y2="546.30" stroke="#262626" stroke-width="1.6" />
<line x1="734.15" y1="578.10" x2="751.65" y2="578.10" stroke="#262626" stroke-width="1.6" />
<circle cx="742.90" cy="562.20" r="10.0" fill="#fff" stroke="#1a1a1a" stroke-width="1.4"/>
<line x1="734.60" y1="553.90" x2="751.20" y2="570.50" stroke="#FF0000" stroke-width="2.3" stroke-linecap="round"/>
<line x1="734.60" y1="570.50" x2="751.20" y2="553.90" stroke="#FF0000" stroke-width="2.3" stroke-linecap="round"/>
<line x1="765.60" y1="570.50" x2="765.60" y2="641.90" stroke="#262626" stroke-width="1.6" />
<line x1="756.85" y1="570.50" x2="774.35" y2="570.50" stroke="#262626" stroke-width="1.6" />
<line x1="756.85" y1="641.90" x2="774.35" y2="641.90" stroke="#262626" stroke-width="1.6" />
<circle cx="765.60" cy="606.20" r="10.0" fill="#fff" stroke="#1a1a1a" stroke-width="1.4"/>
<line x1="757.30" y1="597.90" x2="773.90" y2="614.50" stroke="#FF0000" stroke-width="2.3" stroke-linecap="round"/>
<line x1="757.30" y1="614.50" x2="773.90" y2="597.90" stroke="#FF0000" stroke-width="2.3" stroke-linecap="round"/>
<line x1="796.60" y1="604.00" x2="796.60" y2="629.00" stroke="#262626" stroke-width="1.6" />
<line x1="787.85" y1="604.00" x2="805.35" y2="604.00" stroke="#262626" stroke-width="1.6" />
<line x1="787.85" y1="629.00" x2="805.35" y2="629.00" stroke="#262626" stroke-width="1.6" />
<circle cx="796.60" cy="616.50" r="10.0" fill="#fff" stroke="#1a1a1a" stroke-width="1.4"/>
<line x1="788.30" y1="608.20" x2="804.90" y2="624.80" stroke="#FF0000" stroke-width="2.3" stroke-linecap="round"/>
<line x1="788.30" y1="624.80" x2="804.90" y2="608.20" stroke="#FF0000" stroke-width="2.3" stroke-linecap="round"/>
<line x1="882.20" y1="492.10" x2="882.20" y2="549.00" stroke="#262626" stroke-width="1.6" />
<line x1="873.45" y1="492.10" x2="890.95" y2="492.10" stroke="#262626" stroke-width="1.6" />
<line x1="873.45" y1="549.00" x2="890.95" y2="549.00" stroke="#262626" stroke-width="1.6" />
<circle cx="882.20" cy="520.55" r="10.0" fill="#fff" stroke="#1a1a1a" stroke-width="1.4"/>
<line x1="873.90" y1="512.25" x2="890.50" y2="528.85" stroke="#FF0000" stroke-width="2.3" stroke-linecap="round"/>
<line x1="873.90" y1="528.85" x2="890.50" y2="512.25" stroke="#FF0000" stroke-width="2.3" stroke-linecap="round"/>
<circle cx="919.60" cy="494.50" r="10.0" fill="#fff" stroke="#1a1a1a" stroke-width="1.4"/>
<line x1="911.30" y1="486.20" x2="927.90" y2="502.80" stroke="#FF0000" stroke-width="2.3" stroke-linecap="round"/>
<line x1="911.30" y1="502.80" x2="927.90" y2="486.20" stroke="#FF0000" stroke-width="2.3" stroke-linecap="round"/>
<circle cx="945.00" cy="539.70" r="10.0" fill="#fff" stroke="#1a1a1a" stroke-width="1.4"/>
<circle cx="993.10" cy="530.00" r="10.0" fill="#fff" stroke="#1a1a1a" stroke-width="1.4"/>
<line x1="970.60" y1="503.60" x2="970.60" y2="541.50" stroke="#262626" stroke-width="1.6" />
<line x1="961.85" y1="503.60" x2="979.35" y2="503.60" stroke="#262626" stroke-width="1.6" />
<line x1="961.85" y1="541.50" x2="979.35" y2="541.50" stroke="#262626" stroke-width="1.6" />
<rect x="962.60" y="514.60" width="16.0" height="16.0" rx="1.5" fill="#fff" stroke="#555" stroke-width="1.6"/>
<line x1="1014.40" y1="483.50" x2="1014.40" y2="508.70" stroke="#262626" stroke-width="1.6" />
<line x1="1005.65" y1="483.50" x2="1023.15" y2="483.50" stroke="#262626" stroke-width="1.6" />
<line x1="1005.65" y1="508.70" x2="1023.15" y2="508.70" stroke="#262626" stroke-width="1.6" />
<rect x="1006.30" y="488.00" width="16.2" height="16.2" rx="0.5" fill="#fff" stroke="#6e6e6e" stroke-width="2.0"/>
<line x1="1005.80" y1="487.50" x2="1023.00" y2="504.70" stroke="#FF0000" stroke-width="2.3" stroke-linecap="round"/>
<line x1="1005.80" y1="504.70" x2="1023.00" y2="487.50" stroke="#FF0000" stroke-width="2.3" stroke-linecap="round"/>
<rect x="1046.10" y="479.10" width="16.2" height="16.2" rx="0.5" fill="#fff" stroke="#6e6e6e" stroke-width="2.0"/>
<line x1="1045.60" y1="478.60" x2="1062.80" y2="495.80" stroke="#FF0000" stroke-width="2.3" stroke-linecap="round"/>
<line x1="1045.60" y1="495.80" x2="1062.80" y2="478.60" stroke="#FF0000" stroke-width="2.3" stroke-linecap="round"/>
<line x1="1100.60" y1="495.30" x2="1100.60" y2="535.30" stroke="#262626" stroke-width="1.6" />
<line x1="1091.85" y1="495.30" x2="1109.35" y2="495.30" stroke="#262626" stroke-width="1.6" />
<line x1="1091.85" y1="535.30" x2="1109.35" y2="535.30" stroke="#262626" stroke-width="1.6" />
<rect x="1092.50" y="507.20" width="16.2" height="16.2" rx="0.5" fill="#fff" stroke="#6e6e6e" stroke-width="2.0"/>
<line x1="1092.00" y1="506.70" x2="1109.20" y2="523.90" stroke="#FF0000" stroke-width="2.3" stroke-linecap="round"/>
<line x1="1092.00" y1="523.90" x2="1109.20" y2="506.70" stroke="#FF0000" stroke-width="2.3" stroke-linecap="round"/>
<rect x="1130.40" y="510.40" width="16.2" height="16.2" rx="0.5" fill="#fff" stroke="#6e6e6e" stroke-width="2.0"/>
<line x1="1129.90" y1="509.90" x2="1147.10" y2="527.10" stroke="#FF0000" stroke-width="2.3" stroke-linecap="round"/>
<line x1="1129.90" y1="527.10" x2="1147.10" y2="509.90" stroke="#FF0000" stroke-width="2.3" stroke-linecap="round"/>
<line x1="1158.50" y1="497.50" x2="1158.50" y2="541.50" stroke="#262626" stroke-width="1.6" />
<line x1="1149.75" y1="497.50" x2="1167.25" y2="497.50" stroke="#262626" stroke-width="1.6" />
<line x1="1149.75" y1="541.50" x2="1167.25" y2="541.50" stroke="#262626" stroke-width="1.6" />
<rect x="1150.40" y="511.40" width="16.2" height="16.2" rx="0.5" fill="#fff" stroke="#6e6e6e" stroke-width="2.0"/>
<line x1="1149.90" y1="510.90" x2="1167.10" y2="528.10" stroke="#FF0000" stroke-width="2.3" stroke-linecap="round"/>
<line x1="1149.90" y1="528.10" x2="1167.10" y2="510.90" stroke="#FF0000" stroke-width="2.3" stroke-linecap="round"/>
<line x1="1206.40" y1="517.70" x2="1206.40" y2="543.90" stroke="#262626" stroke-width="1.6" />
<line x1="1197.65" y1="517.70" x2="1215.15" y2="517.70" stroke="#262626" stroke-width="1.6" />
<line x1="1197.65" y1="543.90" x2="1215.15" y2="543.90" stroke="#262626" stroke-width="1.6" />
<rect x="1198.30" y="522.70" width="16.2" height="16.2" rx="0.5" fill="#fff" stroke="#6e6e6e" stroke-width="2.0"/>
<line x1="1197.80" y1="522.20" x2="1215.00" y2="539.40" stroke="#FF0000" stroke-width="2.3" stroke-linecap="round"/>
<line x1="1197.80" y1="539.40" x2="1215.00" y2="522.20" stroke="#FF0000" stroke-width="2.3" stroke-linecap="round"/>
<polygon points="1083.50,809.30 1093.40,822.60 1083.50,835.90 1073.60,822.60" fill="#77AC30" stroke="#1a1a1a" stroke-width="1.4" stroke-linejoin="round"/>
<polygon points="1109.90,760.50 1121.59,780.75 1098.21,780.75" fill="#77AC30" stroke="#1a1a1a" stroke-width="1.4" stroke-linejoin="round"/>
<polygon points="962.50,924.70 982.75,913.01 982.75,936.39" fill="#A2142F" stroke="#1a1a1a" stroke-width="1.4" stroke-linejoin="round"/>
<polygon points="1040.70,845.30 1060.95,833.61 1060.95,856.99" fill="#A2142F" stroke="#1a1a1a" stroke-width="1.4" stroke-linejoin="round"/>
<polygon points="834.50,835.90 822.81,815.65 846.19,815.65" fill="#EDB120" stroke="#1a1a1a" stroke-width="1.4" stroke-linejoin="round"/>
<polygon points="1122.10,898.80 1133.79,919.05 1110.41,919.05" fill="#EDB120" stroke="#1a1a1a" stroke-width="1.4" stroke-linejoin="round"/>
<polygon points="1004.10,871.10 1014.00,884.40 1004.10,897.70 994.20,884.40" fill="#EDB120" stroke="#1a1a1a" stroke-width="1.4" stroke-linejoin="round"/>
<polygon points="886.80,764.70 907.05,753.01 907.05,776.39" fill="#EDB120" stroke="#1a1a1a" stroke-width="1.4" stroke-linejoin="round"/>
<polygon points="1113.50,884.40 1093.25,896.09 1093.25,872.71" fill="#EDB120" stroke="#1a1a1a" stroke-width="1.4" stroke-linejoin="round"/>
<rect x="924.95" y="713.45" width="15.5" height="15.5" rx="2" fill="#EDB120" stroke="#1a1a1a" stroke-width="1.4"/>
<circle cx="914.00" cy="841.60" r="9.6" fill="#EDB120" stroke="#1a1a1a" stroke-width="1.4"/>
<circle cx="742.90" cy="974.30" r="10.0" fill="#fff" stroke="#1a1a1a" stroke-width="1.4"/>
<line x1="734.60" y1="966.00" x2="751.20" y2="982.60" stroke="#FF0000" stroke-width="2.3" stroke-linecap="round"/>
<line x1="734.60" y1="982.60" x2="751.20" y2="966.00" stroke="#FF0000" stroke-width="2.3" stroke-linecap="round"/>
<circle cx="765.40" cy="1017.40" r="10.0" fill="#fff" stroke="#1a1a1a" stroke-width="1.4"/>
<line x1="757.10" y1="1009.10" x2="773.70" y2="1025.70" stroke="#FF0000" stroke-width="2.3" stroke-linecap="round"/>
<line x1="757.10" y1="1025.70" x2="773.70" y2="1009.10" stroke="#FF0000" stroke-width="2.3" stroke-linecap="round"/>
<circle cx="796.90" cy="1009.80" r="10.0" fill="#fff" stroke="#1a1a1a" stroke-width="1.4"/>
<line x1="788.60" y1="1001.50" x2="805.20" y2="1018.10" stroke="#FF0000" stroke-width="2.3" stroke-linecap="round"/>
<line x1="788.60" y1="1018.10" x2="805.20" y2="1001.50" stroke="#FF0000" stroke-width="2.3" stroke-linecap="round"/>
<circle cx="882.70" cy="893.00" r="10.0" fill="#fff" stroke="#1a1a1a" stroke-width="1.4"/>
<line x1="874.40" y1="884.70" x2="891.00" y2="901.30" stroke="#FF0000" stroke-width="2.3" stroke-linecap="round"/>
<line x1="874.40" y1="901.30" x2="891.00" y2="884.70" stroke="#FF0000" stroke-width="2.3" stroke-linecap="round"/>
<circle cx="919.60" cy="875.40" r="10.0" fill="#fff" stroke="#1a1a1a" stroke-width="1.4"/>
<line x1="911.30" y1="867.10" x2="927.90" y2="883.70" stroke="#FF0000" stroke-width="2.3" stroke-linecap="round"/>
<line x1="911.30" y1="883.70" x2="927.90" y2="867.10" stroke="#FF0000" stroke-width="2.3" stroke-linecap="round"/>
<circle cx="945.00" cy="930.80" r="10.0" fill="#fff" stroke="#1a1a1a" stroke-width="1.4"/>
<circle cx="993.10" cy="908.10" r="10.0" fill="#fff" stroke="#1a1a1a" stroke-width="1.4"/>
<rect x="962.60" y="886.20" width="16.0" height="16.0" rx="1.5" fill="#fff" stroke="#555" stroke-width="1.6"/>
<rect x="1006.30" y="851.10" width="16.2" height="16.2" rx="0.5" fill="#fff" stroke="#6e6e6e" stroke-width="2.0"/>
<line x1="1005.80" y1="850.60" x2="1023.00" y2="867.80" stroke="#FF0000" stroke-width="2.3" stroke-linecap="round"/>
<line x1="1005.80" y1="867.80" x2="1023.00" y2="850.60" stroke="#FF0000" stroke-width="2.3" stroke-linecap="round"/>
<rect x="1046.10" y="838.40" width="16.2" height="16.2" rx="0.5" fill="#fff" stroke="#6e6e6e" stroke-width="2.0"/>
<line x1="1045.60" y1="837.90" x2="1062.80" y2="855.10" stroke="#FF0000" stroke-width="2.3" stroke-linecap="round"/>
<line x1="1045.60" y1="855.10" x2="1062.80" y2="837.90" stroke="#FF0000" stroke-width="2.3" stroke-linecap="round"/>
<rect x="1093.00" y="875.10" width="16.2" height="16.2" rx="0.5" fill="#fff" stroke="#6e6e6e" stroke-width="2.0"/>
<line x1="1092.50" y1="874.60" x2="1109.70" y2="891.80" stroke="#FF0000" stroke-width="2.3" stroke-linecap="round"/>
<line x1="1092.50" y1="891.80" x2="1109.70" y2="874.60" stroke="#FF0000" stroke-width="2.3" stroke-linecap="round"/>
<rect x="1130.40" y="888.50" width="16.2" height="16.2" rx="0.5" fill="#fff" stroke="#6e6e6e" stroke-width="2.0"/>
<line x1="1129.90" y1="888.00" x2="1147.10" y2="905.20" stroke="#FF0000" stroke-width="2.3" stroke-linecap="round"/>
<line x1="1129.90" y1="905.20" x2="1147.10" y2="888.00" stroke="#FF0000" stroke-width="2.3" stroke-linecap="round"/>
<rect x="1150.40" y="919.10" width="16.2" height="16.2" rx="0.5" fill="#fff" stroke="#6e6e6e" stroke-width="2.0"/>
<line x1="1149.90" y1="918.60" x2="1167.10" y2="935.80" stroke="#FF0000" stroke-width="2.3" stroke-linecap="round"/>
<line x1="1149.90" y1="935.80" x2="1167.10" y2="918.60" stroke="#FF0000" stroke-width="2.3" stroke-linecap="round"/>
<rect x="1198.30" y="927.60" width="16.2" height="16.2" rx="0.5" fill="#fff" stroke="#6e6e6e" stroke-width="2.0"/>
<line x1="1197.80" y1="927.10" x2="1215.00" y2="944.30" stroke="#FF0000" stroke-width="2.3" stroke-linecap="round"/>
<line x1="1197.80" y1="944.30" x2="1215.00" y2="927.10" stroke="#FF0000" stroke-width="2.3" stroke-linecap="round"/>
</svg></body></html>
